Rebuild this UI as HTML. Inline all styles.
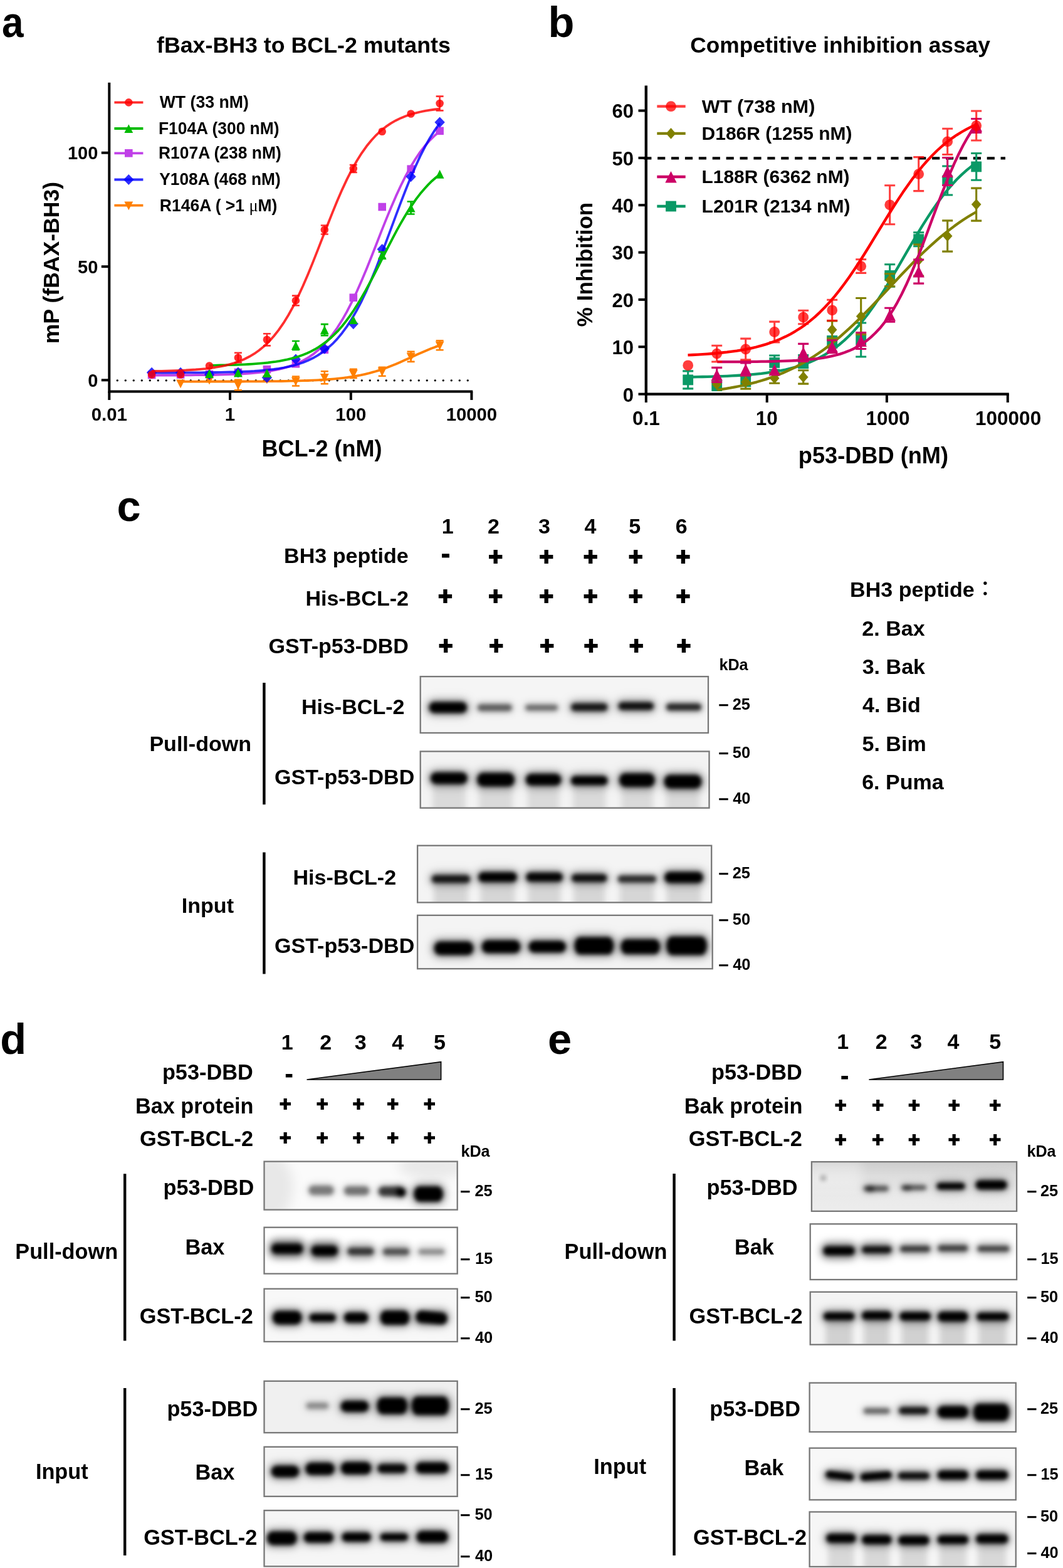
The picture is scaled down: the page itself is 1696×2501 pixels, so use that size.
<!DOCTYPE html>
<html lang="en">
<head>
<meta charset="utf-8">
<title>Figure</title>
<style>
html,body{margin:0;padding:0;background:#fff;}
body{width:1696px;height:2501px;overflow:hidden;}
svg{display:block;}
svg text{font-family:"Liberation Sans", sans-serif;font-weight:bold;fill:#000;}
</style>
</head>
<body>
<svg width="1696" height="2501" viewBox="0 0 1696 2501">
<rect x="0" y="0" width="1696" height="2501" fill="#ffffff"/>
<text x="3.0" y="59.2" font-size="69" textLength="34.5" lengthAdjust="spacingAndGlyphs">a</text>
<text x="874.4" y="58.9" font-size="68.5">b</text>
<text x="186.4" y="830.6" font-size="68.5">c</text>
<text x="0.2" y="1681.0" font-size="68.5">d</text>
<text x="873.9" y="1680.5" font-size="68.5">e</text>
<g id="panel-a">
<text x="484.4" y="83.6" font-size="35.75" text-anchor="middle">fBax-BH3 to BCL-2 mutants</text>
<path d="M174.3,131.7 V626.6 M172.3,624.6 H754.2" stroke="#000" stroke-width="4" fill="none"/>
<path d="M161.8,243.7 H174.3" stroke="#000" stroke-width="4"/>
<text x="156.3" y="254.2" font-size="29.0" text-anchor="end">100</text>
<path d="M161.8,425.2 H174.3" stroke="#000" stroke-width="4"/>
<text x="156.3" y="435.7" font-size="29.0" text-anchor="end">50</text>
<path d="M161.8,606.3 H174.3" stroke="#000" stroke-width="4"/>
<text x="156.3" y="616.8" font-size="29.0" text-anchor="end">0</text>
<path d="M174.3,624.6 V638" stroke="#000" stroke-width="4"/>
<text x="174.3" y="670.6" font-size="29.3" text-anchor="middle">0.01</text>
<path d="M367.0,624.6 V638" stroke="#000" stroke-width="4"/>
<text x="367.0" y="670.6" font-size="29.3" text-anchor="middle">1</text>
<path d="M559.8,624.6 V638" stroke="#000" stroke-width="4"/>
<text x="559.8" y="670.6" font-size="29.3" text-anchor="middle">100</text>
<path d="M752.4,624.6 V638" stroke="#000" stroke-width="4"/>
<text x="752.4" y="670.6" font-size="29.3" text-anchor="middle">10000</text>
<text x="513.4" y="728.2" font-size="36" text-anchor="middle">BCL-2 (nM)</text>
<text transform="translate(94.4,419) rotate(-90)" font-size="35.6" text-anchor="middle">mP (fBAX-BH3)</text>
<path d="M187.2,606.8 H751" stroke="#000" stroke-width="3.3" stroke-dasharray="0.1 12.9" stroke-linecap="round" fill="none"/>
<g id="a-R146A">
<path d="M288.0,608.6 L295.0,608.6 L302.0,608.6 L309.0,608.6 L316.0,608.6 L323.1,608.6 L330.1,608.6 L337.1,608.6 L344.1,608.5 L351.1,608.5 L358.1,608.5 L365.1,608.5 L372.1,608.5 L379.1,608.5 L386.1,608.5 L393.2,608.4 L400.2,608.4 L407.2,608.4 L414.2,608.3 L421.2,608.3 L428.2,608.2 L435.2,608.2 L442.2,608.1 L449.2,608.0 L456.2,607.9 L463.3,607.7 L470.3,607.6 L477.3,607.4 L484.3,607.2 L491.3,607.0 L498.3,606.7 L505.3,606.4 L512.3,606.0 L519.3,605.5 L526.3,605.0 L533.4,604.4 L540.4,603.7 L547.4,602.9 L554.4,602.0 L561.4,600.9 L568.4,599.7 L575.4,598.4 L582.4,596.8 L589.4,595.1 L596.4,593.2 L603.5,591.1 L610.5,588.7 L617.5,586.2 L624.5,583.5 L631.5,580.7 L638.5,577.7 L645.5,574.6 L652.5,571.4 L659.5,568.3 L666.5,565.1 L673.6,562.0 L680.6,559.0 L687.6,556.1 L694.6,553.4 L701.6,550.9" stroke="#ff8000" stroke-width="3.8" fill="none" stroke-linejoin="round"/>
<path d="M288.1,619.3 L295.0,605.5 L281.1,605.5Z" fill="#ff8000"/>
<path d="M334.0,613.6 L340.9,599.8 L327.1,599.8Z" fill="#ff8000"/>
<path d="M379.9,605.8 V622.2 M373.9,605.8 h12 M373.9,622.2 h12" stroke="#ff8000" stroke-width="2.6" fill="none"/>
<path d="M379.9,621.6 L386.9,607.8 L373.0,607.8Z" fill="#ff8000"/>
<path d="M425.9,612.6 L432.8,598.8 L419.0,598.8Z" fill="#ff8000"/>
<path d="M471.9,600.5 V615.5 M465.9,600.5 h12 M465.9,615.5 h12" stroke="#ff8000" stroke-width="2.6" fill="none"/>
<path d="M471.9,615.6 L478.8,601.8 L464.9,601.8Z" fill="#ff8000"/>
<path d="M517.8,592.2 V612.2 M511.8,592.2 h12 M511.8,612.2 h12" stroke="#ff8000" stroke-width="2.6" fill="none"/>
<path d="M517.8,609.8 L524.7,596.0 L510.9,596.0Z" fill="#ff8000"/>
<path d="M563.8,588.9 V602.9 M557.8,588.9 h12 M557.8,602.9 h12" stroke="#ff8000" stroke-width="2.6" fill="none"/>
<path d="M563.8,603.5 L570.7,589.7 L556.8,589.7Z" fill="#ff8000"/>
<path d="M609.7,585.7 V599.7 M603.7,585.7 h12 M603.7,599.7 h12" stroke="#ff8000" stroke-width="2.6" fill="none"/>
<path d="M609.7,600.3 L616.6,586.5 L602.8,586.5Z" fill="#ff8000"/>
<path d="M655.6,560.9 V576.9 M649.6,560.9 h12 M649.6,576.9 h12" stroke="#ff8000" stroke-width="2.6" fill="none"/>
<path d="M655.6,576.5 L662.6,562.7 L648.7,562.7Z" fill="#ff8000"/>
<path d="M701.6,543.3 V558.3 M695.6,543.3 h12 M695.6,558.3 h12" stroke="#ff8000" stroke-width="2.6" fill="none"/>
<path d="M701.6,558.4 L708.5,544.6 L694.7,544.6Z" fill="#ff8000"/>
</g>
<g id="a-R107A">
<path d="M242.1,598.6 L249.9,598.6 L257.7,598.5 L265.5,598.5 L273.3,598.5 L281.0,598.5 L288.8,598.4 L296.6,598.4 L304.4,598.3 L312.2,598.2 L320.0,598.2 L327.8,598.1 L335.6,597.9 L343.3,597.8 L351.1,597.6 L358.9,597.4 L366.7,597.2 L374.5,596.8 L382.3,596.5 L390.1,596.0 L397.9,595.5 L405.7,594.9 L413.4,594.1 L421.2,593.2 L429.0,592.0 L436.8,590.7 L444.6,589.1 L452.4,587.2 L460.2,584.9 L468.0,582.2 L475.7,579.0 L483.5,575.2 L491.3,570.7 L499.1,565.4 L506.9,559.1 L514.7,551.9 L522.5,543.5 L530.3,533.9 L538.0,523.0 L545.8,510.6 L553.6,496.9 L561.4,481.7 L569.2,465.2 L577.0,447.5 L584.8,428.9 L592.6,409.5 L600.4,389.8 L608.1,369.9 L615.9,350.4 L623.7,331.5 L631.5,313.4 L639.3,296.5 L647.1,280.9 L654.9,266.6 L662.7,253.8 L670.4,242.4 L678.2,232.4 L686.0,223.6 L693.8,216.0 L701.6,209.4" stroke="#c040e8" stroke-width="3.8" fill="none" stroke-linejoin="round"/>
<rect x="235.8" y="591.7" width="12.6" height="12.6" fill="#c040e8"/>
<rect x="281.8" y="591.2" width="12.6" height="12.6" fill="#c040e8"/>
<rect x="327.7" y="590.7" width="12.6" height="12.6" fill="#c040e8"/>
<rect x="373.6" y="587.7" width="12.6" height="12.6" fill="#c040e8"/>
<rect x="419.6" y="582.9" width="12.6" height="12.6" fill="#c040e8"/>
<rect x="465.6" y="574.0" width="12.6" height="12.6" fill="#c040e8"/>
<rect x="511.5" y="551.5" width="12.6" height="12.6" fill="#c040e8"/>
<rect x="557.5" y="468.4" width="12.6" height="12.6" fill="#c040e8"/>
<rect x="603.4" y="323.7" width="12.6" height="12.6" fill="#c040e8"/>
<rect x="649.4" y="263.4" width="12.6" height="12.6" fill="#c040e8"/>
<rect x="695.3" y="202.5" width="12.6" height="12.6" fill="#c040e8"/>
</g>
<g id="a-Y108A">
<path d="M242.1,594.6 L249.9,594.6 L257.7,594.5 L265.5,594.5 L273.3,594.5 L281.0,594.5 L288.8,594.5 L296.6,594.4 L304.4,594.4 L312.2,594.3 L320.0,594.3 L327.8,594.2 L335.6,594.1 L343.3,594.0 L351.1,593.9 L358.9,593.7 L366.7,593.5 L374.5,593.3 L382.3,593.0 L390.1,592.7 L397.9,592.3 L405.7,591.9 L413.4,591.3 L421.2,590.7 L429.0,589.9 L436.8,589.0 L444.6,587.9 L452.4,586.5 L460.2,584.9 L468.0,583.1 L475.7,580.8 L483.5,578.2 L491.3,575.0 L499.1,571.3 L506.9,566.9 L514.7,561.7 L522.5,555.7 L530.3,548.7 L538.0,540.6 L545.8,531.2 L553.6,520.6 L561.4,508.5 L569.2,495.0 L577.0,480.0 L584.8,463.6 L592.6,445.8 L600.4,426.8 L608.1,406.8 L615.9,386.2 L623.7,365.1 L631.5,344.1 L639.3,323.3 L647.1,303.2 L654.9,283.9 L662.7,265.9 L670.4,249.1 L678.2,233.8 L686.0,220.0 L693.8,207.6 L701.6,196.7" stroke="#0000ff" stroke-width="3.8" fill="none" stroke-linejoin="round" stroke-opacity="0.82"/>
<path d="M242.1,585.7 L250.3,594.3 L242.1,602.9 L233.9,594.3Z" fill="#0000ff" fill-opacity="0.82"/>
<path d="M288.1,585.7 L296.2,594.3 L288.1,602.9 L279.9,594.3Z" fill="#0000ff" fill-opacity="0.82"/>
<path d="M334.0,588.9 L342.2,597.5 L334.0,606.1 L325.8,597.5Z" fill="#0000ff" fill-opacity="0.82"/>
<path d="M379.9,585.4 L388.1,594.0 L379.9,602.6 L371.8,594.0Z" fill="#0000ff" fill-opacity="0.82"/>
<path d="M425.9,593.6 L434.1,602.2 L425.9,610.8 L417.7,602.2Z" fill="#0000ff" fill-opacity="0.82"/>
<path d="M471.9,564.4 L480.0,573.0 L471.9,581.6 L463.7,573.0Z" fill="#0000ff" fill-opacity="0.82"/>
<path d="M517.8,547.6 L526.0,556.2 L517.8,564.8 L509.6,556.2Z" fill="#0000ff" fill-opacity="0.82"/>
<path d="M563.8,508.0 L571.9,516.6 L563.8,525.2 L555.6,516.6Z" fill="#0000ff" fill-opacity="0.82"/>
<path d="M609.7,389.0 L617.9,397.6 L609.7,406.2 L601.5,397.6Z" fill="#0000ff" fill-opacity="0.82"/>
<path d="M655.6,273.1 L663.8,281.7 L655.6,290.3 L647.5,281.7Z" fill="#0000ff" fill-opacity="0.82"/>
<path d="M701.6,186.5 L709.8,195.1 L701.6,203.7 L693.4,195.1Z" fill="#0000ff" fill-opacity="0.82"/>
</g>
<g id="a-F104A">
<path d="M333.9,582.8 L340.1,582.8 L346.4,582.7 L352.6,582.5 L358.8,582.4 L365.1,582.2 L371.3,582.1 L377.5,581.8 L383.8,581.6 L390.0,581.3 L396.2,581.0 L402.5,580.6 L408.7,580.2 L414.9,579.7 L421.2,579.1 L427.4,578.5 L433.6,577.7 L439.8,576.9 L446.1,575.9 L452.3,574.7 L458.5,573.4 L464.8,571.9 L471.0,570.2 L477.2,568.3 L483.5,566.0 L489.7,563.5 L495.9,560.6 L502.2,557.3 L508.4,553.6 L514.6,549.4 L520.9,544.8 L527.1,539.5 L533.3,533.7 L539.6,527.3 L545.8,520.2 L552.0,512.4 L558.3,503.9 L564.5,494.8 L570.7,485.0 L577.0,474.5 L583.2,463.6 L589.4,452.1 L595.7,440.3 L601.9,428.1 L608.1,415.9 L614.3,403.5 L620.6,391.3 L626.8,379.3 L633.0,367.6 L639.3,356.4 L645.5,345.7 L651.7,335.6 L658.0,326.1 L664.2,317.2 L670.4,309.1 L676.7,301.7 L682.9,294.9 L689.1,288.7 L695.4,283.2 L701.6,278.2" stroke="#00bb00" stroke-width="3.8" fill="none" stroke-linejoin="round"/>
<path d="M334.0,589.1 L340.9,603.0 L327.1,603.0Z" fill="#00bb00"/>
<path d="M379.9,587.5 L386.9,601.4 L373.0,601.4Z" fill="#00bb00"/>
<path d="M425.9,588.1 L432.8,602.0 L419.0,602.0Z" fill="#00bb00"/>
<path d="M471.9,544.0 V558.0 M465.9,544.0 h12 M465.9,558.0 h12" stroke="#00bb00" stroke-width="2.6" fill="none"/>
<path d="M471.9,544.2 L478.8,558.1 L464.9,558.1Z" fill="#00bb00"/>
<path d="M517.8,517.1 V535.1 M511.8,517.1 h12 M511.8,535.1 h12" stroke="#00bb00" stroke-width="2.6" fill="none"/>
<path d="M517.8,519.3 L524.7,533.2 L510.9,533.2Z" fill="#00bb00"/>
<path d="M563.8,503.2 L570.7,517.1 L556.8,517.1Z" fill="#00bb00"/>
<path d="M609.7,402.0 V412.0 M603.7,402.0 h12 M603.7,412.0 h12" stroke="#00bb00" stroke-width="2.6" fill="none"/>
<path d="M609.7,400.2 L616.6,414.1 L602.8,414.1Z" fill="#00bb00"/>
<path d="M655.6,321.5 V341.5 M649.6,321.5 h12 M649.6,341.5 h12" stroke="#00bb00" stroke-width="2.6" fill="none"/>
<path d="M655.6,324.7 L662.6,338.6 L648.7,338.6Z" fill="#00bb00"/>
<path d="M701.6,270.8 L708.5,284.7 L694.7,284.7Z" fill="#00bb00"/>
</g>
<g id="a-WT">
<path d="M242.1,592.0 L249.9,591.9 L257.7,591.8 L265.5,591.6 L273.3,591.4 L281.0,591.1 L288.8,590.8 L296.6,590.5 L304.4,590.0 L312.2,589.5 L320.0,588.8 L327.8,588.1 L335.6,587.1 L343.3,586.0 L351.1,584.7 L358.9,583.1 L366.7,581.1 L374.5,578.8 L382.3,576.0 L390.1,572.8 L397.9,568.8 L405.7,564.2 L413.4,558.8 L421.2,552.4 L429.0,545.0 L436.8,536.3 L444.6,526.4 L452.4,515.2 L460.2,502.5 L468.0,488.3 L475.7,472.7 L483.5,455.8 L491.3,437.7 L499.1,418.6 L506.9,398.9 L514.7,378.9 L522.5,359.0 L530.3,339.4 L538.0,320.5 L545.8,302.6 L553.6,285.9 L561.4,270.6 L569.2,256.7 L577.0,244.3 L584.8,233.3 L592.6,223.7 L600.4,215.3 L608.1,208.1 L615.9,201.9 L623.7,196.6 L631.5,192.2 L639.3,188.4 L647.1,185.2 L654.9,182.6 L662.7,180.3 L670.4,178.5 L678.2,176.9 L686.0,175.6 L693.8,174.5 L701.6,173.6" stroke="#ff0000" stroke-width="3.8" fill="none" stroke-linejoin="round" stroke-opacity="0.82"/>
<circle cx="242.1" cy="597.5" r="6.3" fill="#ff0000" fill-opacity="0.82"/>
<circle cx="288.1" cy="597.5" r="6.3" fill="#ff0000" fill-opacity="0.82"/>
<circle cx="334.0" cy="583.5" r="6.3" fill="#ff0000" fill-opacity="0.82"/>
<path d="M379.9,562.7 V578.3 M373.9,562.7 h12 M373.9,578.3 h12" stroke="#ff0000" stroke-width="2.6" fill="none" stroke-opacity="0.82"/>
<circle cx="379.9" cy="570.5" r="6.3" fill="#ff0000" fill-opacity="0.82"/>
<path d="M425.9,532.2 V551.4 M419.9,532.2 h12 M419.9,551.4 h12" stroke="#ff0000" stroke-width="2.6" fill="none" stroke-opacity="0.82"/>
<circle cx="425.9" cy="541.8" r="6.3" fill="#ff0000" fill-opacity="0.82"/>
<path d="M471.9,471.6 V487.2 M465.9,471.6 h12 M465.9,487.2 h12" stroke="#ff0000" stroke-width="2.6" fill="none" stroke-opacity="0.82"/>
<circle cx="471.9" cy="479.4" r="6.3" fill="#ff0000" fill-opacity="0.82"/>
<path d="M517.8,359.5 V373.5 M511.8,359.5 h12 M511.8,373.5 h12" stroke="#ff0000" stroke-width="2.6" fill="none" stroke-opacity="0.82"/>
<circle cx="517.8" cy="366.5" r="6.3" fill="#ff0000" fill-opacity="0.82"/>
<path d="M563.8,263.0 V275.0 M557.8,263.0 h12 M557.8,275.0 h12" stroke="#ff0000" stroke-width="2.6" fill="none" stroke-opacity="0.82"/>
<circle cx="563.8" cy="269.0" r="6.3" fill="#ff0000" fill-opacity="0.82"/>
<circle cx="609.7" cy="209.7" r="6.3" fill="#ff0000" fill-opacity="0.82"/>
<circle cx="655.6" cy="181.5" r="6.3" fill="#ff0000" fill-opacity="0.82"/>
<path d="M701.6,153.6 V176.4 M695.6,153.6 h12 M695.6,176.4 h12" stroke="#ff0000" stroke-width="2.6" fill="none" stroke-opacity="0.82"/>
<circle cx="701.6" cy="165.0" r="6.3" fill="#ff0000" fill-opacity="0.82"/>
</g>
<path d="M182.4,163.4 H228.4" stroke="#ff0000" stroke-width="3.8" stroke-opacity="0.82"/>
<circle cx="205.3" cy="163.4" r="6.3" fill="#ff0000" fill-opacity="0.82"/>
<text x="254.7" y="172.3" font-size="27.2" textLength="142.3" lengthAdjust="spacingAndGlyphs">WT (33 nM)</text>
<path d="M182.4,205 H228.4" stroke="#00bb00" stroke-width="3.8"/>
<path d="M205.3,198.2 L212.2,212.1 L198.4,212.1Z" fill="#00bb00"/>
<text x="253.0" y="213.9" font-size="27.2" textLength="192.5" lengthAdjust="spacingAndGlyphs">F104A (300 nM)</text>
<path d="M182.4,244.3 H228.4" stroke="#c040e8" stroke-width="3.8"/>
<rect x="199.0" y="238.0" width="12.6" height="12.6" fill="#c040e8"/>
<text x="253.0" y="253.2" font-size="27.2" textLength="195.7" lengthAdjust="spacingAndGlyphs">R107A (238 nM)</text>
<path d="M182.4,286.5 H228.4" stroke="#0000ff" stroke-width="3.8" stroke-opacity="0.82"/>
<path d="M205.3,277.9 L213.5,286.5 L205.3,295.1 L197.1,286.5Z" fill="#0000ff" fill-opacity="0.82"/>
<text x="254.3" y="295.4" font-size="27.2" textLength="193.4" lengthAdjust="spacingAndGlyphs">Y108A (468 nM)</text>
<path d="M182.4,327.7 H228.4" stroke="#ff8000" stroke-width="3.8"/>
<path d="M205.3,335.3 L212.2,321.5 L198.4,321.5Z" fill="#ff8000"/>
<text x="254.8" y="336.59999999999997" font-size="27.2" textLength="187.6" lengthAdjust="spacingAndGlyphs">R146A ( &gt;1 <tspan font-family="'Liberation Serif', serif" font-weight="normal" font-size="27">μ</tspan>M)</text>
</g>
<g id="panel-b">
<text x="1340.6" y="83.6" font-size="35.3" text-anchor="middle">Competitive inhibition assay</text>
<path d="M1030.8,136.4 V630.6 M1028.8,628.6 H1609.8" stroke="#000" stroke-width="4.4" fill="none"/>
<path d="M1018.5,628.6 H1030.8" stroke="#000" stroke-width="4"/>
<text x="1011" y="640.5" font-size="31" text-anchor="end">0</text>
<path d="M1018.5,553.2 H1030.8" stroke="#000" stroke-width="4"/>
<text x="1011" y="565.15" font-size="31" text-anchor="end">10</text>
<path d="M1018.5,477.9 H1030.8" stroke="#000" stroke-width="4"/>
<text x="1011" y="489.8" font-size="31" text-anchor="end">20</text>
<path d="M1018.5,402.6 H1030.8" stroke="#000" stroke-width="4"/>
<text x="1011" y="414.45" font-size="31" text-anchor="end">30</text>
<path d="M1018.5,327.2 H1030.8" stroke="#000" stroke-width="4"/>
<text x="1011" y="339.1" font-size="31" text-anchor="end">40</text>
<path d="M1018.5,251.9 H1030.8" stroke="#000" stroke-width="4"/>
<text x="1011" y="263.75" font-size="31" text-anchor="end">50</text>
<path d="M1018.5,176.5 H1030.8" stroke="#000" stroke-width="4"/>
<text x="1011" y="188.4" font-size="31" text-anchor="end">60</text>
<path d="M1030.8,628.6 V642" stroke="#000" stroke-width="4"/>
<text x="1030.8" y="677.5" font-size="31.5" text-anchor="middle">0.1</text>
<path d="M1223.7,628.6 V642" stroke="#000" stroke-width="4"/>
<text x="1223.2" y="677.5" font-size="31.5" text-anchor="middle">10</text>
<path d="M1414.9,628.6 V642" stroke="#000" stroke-width="4"/>
<text x="1416.5" y="677.5" font-size="31.5" text-anchor="middle">1000</text>
<path d="M1607.8,628.6 V642" stroke="#000" stroke-width="4"/>
<text x="1608.6" y="677.5" font-size="31.5" text-anchor="middle">100000</text>
<text x="1393.4" y="739" font-size="36.2" text-anchor="middle">p53-DBD (nM)</text>
<text transform="translate(944.7,422) rotate(-90)" font-size="35" text-anchor="middle">% Inhibition</text>
<path d="M1027.2,252.3 H1604" stroke="#000" stroke-width="4.2" stroke-dasharray="12.2 9.7" fill="none"/>
<g id="b-L201R">
<path d="M1097.5,601.4 L1105.3,601.3 L1113.1,601.2 L1120.9,601.0 L1128.7,600.8 L1136.5,600.6 L1144.3,600.4 L1152.1,600.1 L1159.9,599.8 L1167.7,599.4 L1175.5,599.0 L1183.3,598.5 L1191.1,597.9 L1198.9,597.3 L1206.7,596.6 L1214.5,595.8 L1222.3,594.8 L1230.1,593.7 L1237.9,592.5 L1245.7,591.1 L1253.5,589.5 L1261.3,587.6 L1269.1,585.6 L1276.9,583.2 L1284.7,580.5 L1292.5,577.5 L1300.3,574.0 L1308.1,570.2 L1315.9,565.8 L1323.7,561.0 L1331.5,555.6 L1339.3,549.5 L1347.1,542.9 L1354.9,535.5 L1362.7,527.5 L1370.5,518.7 L1378.3,509.2 L1386.1,499.1 L1393.9,488.2 L1401.7,476.7 L1409.5,464.6 L1417.3,452.0 L1425.1,439.0 L1432.9,425.8 L1440.7,412.4 L1448.5,398.9 L1456.3,385.6 L1464.1,372.4 L1471.9,359.6 L1479.7,347.3 L1487.5,335.5 L1495.3,324.3 L1503.1,313.7 L1510.9,303.9 L1518.7,294.8 L1526.5,286.3 L1534.3,278.6 L1542.1,271.6 L1549.9,265.3 L1557.7,259.6" stroke="#0a9966" stroke-width="4.3" fill="none" stroke-linejoin="round"/>
<path d="M1097.7,591.9 V619.9 M1089.2,591.9 h17 M1089.2,619.9 h17" stroke="#0a9966" stroke-width="3.1" fill="none"/>
<rect x="1089.3" y="597.5" width="16.8" height="16.8" fill="#0a9966"/>
<rect x="1135.3" y="607.2" width="16.8" height="16.8" fill="#0a9966"/>
<path d="M1189.7,599.7 V615.7 M1181.2,599.7 h17 M1181.2,615.7 h17" stroke="#0a9966" stroke-width="3.1" fill="none"/>
<rect x="1181.3" y="599.3" width="16.8" height="16.8" fill="#0a9966"/>
<path d="M1235.7,567.0 V590.0 M1227.2,567.0 h17 M1227.2,590.0 h17" stroke="#0a9966" stroke-width="3.1" fill="none"/>
<rect x="1227.3" y="570.1" width="16.8" height="16.8" fill="#0a9966"/>
<path d="M1281.7,566.6 V586.6 M1273.2,566.6 h17 M1273.2,586.6 h17" stroke="#0a9966" stroke-width="3.1" fill="none"/>
<rect x="1273.3" y="568.2" width="16.8" height="16.8" fill="#0a9966"/>
<path d="M1327.7,536.5 V554.5 M1319.2,536.5 h17 M1319.2,554.5 h17" stroke="#0a9966" stroke-width="3.1" fill="none"/>
<rect x="1319.3" y="537.1" width="16.8" height="16.8" fill="#0a9966"/>
<path d="M1373.7,515.0 V569.0 M1365.2,515.0 h17 M1365.2,569.0 h17" stroke="#0a9966" stroke-width="3.1" fill="none"/>
<rect x="1365.3" y="533.6" width="16.8" height="16.8" fill="#0a9966"/>
<path d="M1419.7,421.7 V457.3 M1411.2,421.7 h17 M1411.2,457.3 h17" stroke="#0a9966" stroke-width="3.1" fill="none"/>
<rect x="1411.3" y="431.1" width="16.8" height="16.8" fill="#0a9966"/>
<path d="M1465.7,370.7 V392.7 M1457.2,370.7 h17 M1457.2,392.7 h17" stroke="#0a9966" stroke-width="3.1" fill="none"/>
<rect x="1457.3" y="373.3" width="16.8" height="16.8" fill="#0a9966"/>
<path d="M1511.7,265.0 V311.0 M1503.2,265.0 h17 M1503.2,311.0 h17" stroke="#0a9966" stroke-width="3.1" fill="none"/>
<rect x="1503.3" y="279.6" width="16.8" height="16.8" fill="#0a9966"/>
<path d="M1557.7,244.5 V287.3 M1549.2,244.5 h17 M1549.2,287.3 h17" stroke="#0a9966" stroke-width="3.1" fill="none"/>
<rect x="1549.3" y="257.5" width="16.8" height="16.8" fill="#0a9966"/>
</g>
<g id="b-D186R">
<path d="M1144.3,622.0 L1151.3,620.9 L1158.3,619.8 L1165.3,618.7 L1172.3,617.4 L1179.3,616.0 L1186.3,614.5 L1193.3,612.9 L1200.4,611.1 L1207.4,609.3 L1214.4,607.2 L1221.4,605.1 L1228.4,602.7 L1235.4,600.2 L1242.4,597.5 L1249.4,594.7 L1256.4,591.6 L1263.4,588.3 L1270.4,584.8 L1277.4,581.1 L1284.4,577.1 L1291.4,572.9 L1298.4,568.5 L1305.5,563.8 L1312.5,558.9 L1319.5,553.8 L1326.5,548.4 L1333.5,542.7 L1340.5,536.8 L1347.5,530.7 L1354.5,524.3 L1361.5,517.8 L1368.5,511.1 L1375.5,504.1 L1382.5,497.1 L1389.5,489.9 L1396.5,482.6 L1403.6,475.2 L1410.6,467.7 L1417.6,460.2 L1424.6,452.7 L1431.6,445.2 L1438.6,437.8 L1445.6,430.5 L1452.6,423.2 L1459.6,416.1 L1466.6,409.1 L1473.6,402.3 L1480.6,395.7 L1487.6,389.3 L1494.6,383.1 L1501.6,377.1 L1508.7,371.4 L1515.7,365.9 L1522.7,360.6 L1529.7,355.6 L1536.7,350.8 L1543.7,346.3 L1550.7,342.0 L1557.7,338.0" stroke="#808000" stroke-width="4.3" fill="none" stroke-linejoin="round"/>
<path d="M1143.7,604.2 L1151.5,613.0 L1143.7,621.8 L1135.9,613.0Z" fill="#808000"/>
<path d="M1189.7,598.7 V620.1 M1181.2,598.7 h17 M1181.2,620.1 h17" stroke="#808000" stroke-width="3.1" fill="none"/>
<path d="M1189.7,600.6 L1197.5,609.4 L1189.7,618.2 L1181.9,609.4Z" fill="#808000"/>
<path d="M1235.7,595.2 V611.2 M1227.2,595.2 h17 M1227.2,611.2 h17" stroke="#808000" stroke-width="3.1" fill="none"/>
<path d="M1235.7,594.4 L1243.5,603.2 L1235.7,612.0 L1227.9,603.2Z" fill="#808000"/>
<path d="M1281.7,590.7 V612.1 M1273.2,590.7 h17 M1273.2,612.1 h17" stroke="#808000" stroke-width="3.1" fill="none"/>
<path d="M1281.7,592.6 L1289.5,601.4 L1281.7,610.2 L1273.9,601.4Z" fill="#808000"/>
<path d="M1327.7,511.9 V539.9 M1319.2,511.9 h17 M1319.2,539.9 h17" stroke="#808000" stroke-width="3.1" fill="none"/>
<path d="M1327.7,517.1 L1335.5,525.9 L1327.7,534.7 L1319.9,525.9Z" fill="#808000"/>
<path d="M1373.7,475.5 V533.5 M1365.2,475.5 h17 M1365.2,533.5 h17" stroke="#808000" stroke-width="3.1" fill="none"/>
<path d="M1373.7,495.7 L1381.5,504.5 L1373.7,513.3 L1365.9,504.5Z" fill="#808000"/>
<path d="M1419.7,436.8 V456.8 M1411.2,436.8 h17 M1411.2,456.8 h17" stroke="#808000" stroke-width="3.1" fill="none"/>
<path d="M1419.7,438.0 L1427.5,446.8 L1419.7,455.6 L1411.9,446.8Z" fill="#808000"/>
<path d="M1465.7,390.0 V440.0 M1457.2,390.0 h17 M1457.2,440.0 h17" stroke="#808000" stroke-width="3.1" fill="none"/>
<path d="M1465.7,406.2 L1473.5,415.0 L1465.7,423.8 L1457.9,415.0Z" fill="#808000"/>
<path d="M1511.7,351.9 V401.1 M1503.2,351.9 h17 M1503.2,401.1 h17" stroke="#808000" stroke-width="3.1" fill="none"/>
<path d="M1511.7,367.7 L1519.5,376.5 L1511.7,385.3 L1503.9,376.5Z" fill="#808000"/>
<path d="M1557.7,300.1 V352.1 M1549.2,300.1 h17 M1549.2,352.1 h17" stroke="#808000" stroke-width="3.1" fill="none"/>
<path d="M1557.7,317.3 L1565.5,326.1 L1557.7,334.9 L1549.9,326.1Z" fill="#808000"/>
</g>
<g id="b-L188R">
<path d="M1144.3,577.2 L1151.3,577.2 L1158.3,577.2 L1165.3,577.2 L1172.3,577.1 L1179.3,577.1 L1186.3,577.0 L1193.3,577.0 L1200.4,576.9 L1207.4,576.8 L1214.4,576.7 L1221.4,576.6 L1228.4,576.5 L1235.4,576.3 L1242.4,576.1 L1249.4,575.9 L1256.4,575.6 L1263.4,575.3 L1270.4,575.0 L1277.4,574.5 L1284.4,574.0 L1291.4,573.4 L1298.4,572.7 L1305.5,571.8 L1312.5,570.8 L1319.5,569.6 L1326.5,568.2 L1333.5,566.5 L1340.5,564.6 L1347.5,562.3 L1354.5,559.6 L1361.5,556.5 L1368.5,552.8 L1375.5,548.5 L1382.5,543.6 L1389.5,537.9 L1396.5,531.3 L1403.6,523.8 L1410.6,515.2 L1417.6,505.6 L1424.6,494.7 L1431.6,482.6 L1438.6,469.3 L1445.6,454.8 L1452.6,439.1 L1459.6,422.3 L1466.6,404.7 L1473.6,386.4 L1480.6,367.7 L1487.6,348.7 L1494.6,329.9 L1501.6,311.4 L1508.7,293.6 L1515.7,276.5 L1522.7,260.4 L1529.7,245.5 L1536.7,231.8 L1543.7,219.3 L1550.7,208.0 L1557.7,197.9" stroke="#cc0066" stroke-width="4.3" fill="none" stroke-linejoin="round"/>
<path d="M1143.7,586.4 V609.4 M1135.2,586.4 h17 M1135.2,609.4 h17" stroke="#cc0066" stroke-width="3.1" fill="none"/>
<path d="M1143.7,588.8 L1152.9,607.3 L1134.5,607.3Z" fill="#cc0066"/>
<path d="M1189.7,579.0 V599.0 M1181.2,579.0 h17 M1181.2,599.0 h17" stroke="#cc0066" stroke-width="3.1" fill="none"/>
<path d="M1189.7,579.9 L1198.9,598.4 L1180.5,598.4Z" fill="#cc0066"/>
<path d="M1235.7,580.8 L1244.9,599.3 L1226.5,599.3Z" fill="#cc0066"/>
<path d="M1281.7,548.4 V576.4 M1273.2,548.4 h17 M1273.2,576.4 h17" stroke="#cc0066" stroke-width="3.1" fill="none"/>
<path d="M1281.7,553.3 L1290.9,571.8 L1272.5,571.8Z" fill="#cc0066"/>
<path d="M1327.7,542.8 V562.8 M1319.2,542.8 h17 M1319.2,562.8 h17" stroke="#cc0066" stroke-width="3.1" fill="none"/>
<path d="M1327.7,543.7 L1336.9,562.2 L1318.5,562.2Z" fill="#cc0066"/>
<path d="M1373.7,530.5 V556.5 M1365.2,530.5 h17 M1365.2,556.5 h17" stroke="#cc0066" stroke-width="3.1" fill="none"/>
<path d="M1373.7,534.4 L1382.9,552.9 L1364.5,552.9Z" fill="#cc0066"/>
<path d="M1419.7,491.3 V513.3 M1411.2,491.3 h17 M1411.2,513.3 h17" stroke="#cc0066" stroke-width="3.1" fill="none"/>
<path d="M1419.7,493.2 L1428.9,511.7 L1410.5,511.7Z" fill="#cc0066"/>
<path d="M1465.7,414.1 V452.1 M1457.2,414.1 h17 M1457.2,452.1 h17" stroke="#cc0066" stroke-width="3.1" fill="none"/>
<path d="M1465.7,424.0 L1474.9,442.5 L1456.5,442.5Z" fill="#cc0066"/>
<path d="M1511.7,251.5 V295.5 M1503.2,251.5 h17 M1503.2,295.5 h17" stroke="#cc0066" stroke-width="3.1" fill="none"/>
<path d="M1511.7,264.4 L1520.9,282.9 L1502.5,282.9Z" fill="#cc0066"/>
<path d="M1557.7,189.5 V211.5 M1549.2,189.5 h17 M1549.2,211.5 h17" stroke="#cc0066" stroke-width="3.1" fill="none"/>
<path d="M1557.7,191.4 L1566.9,209.9 L1548.5,209.9Z" fill="#cc0066"/>
</g>
<g id="b-WT">
<path d="M1097.5,566.3 L1105.3,566.0 L1113.1,565.6 L1120.9,565.1 L1128.7,564.6 L1136.5,564.0 L1144.3,563.3 L1152.1,562.5 L1159.9,561.7 L1167.7,560.7 L1175.5,559.6 L1183.3,558.3 L1191.1,556.9 L1198.9,555.3 L1206.7,553.5 L1214.5,551.4 L1222.3,549.1 L1230.1,546.5 L1237.9,543.7 L1245.7,540.4 L1253.5,536.8 L1261.3,532.8 L1269.1,528.3 L1276.9,523.4 L1284.7,517.9 L1292.5,511.9 L1300.3,505.3 L1308.1,498.1 L1315.9,490.3 L1323.7,481.9 L1331.5,472.8 L1339.3,463.1 L1347.1,452.8 L1354.9,441.9 L1362.7,430.5 L1370.5,418.7 L1378.3,406.5 L1386.1,394.0 L1393.9,381.2 L1401.7,368.4 L1409.5,355.6 L1417.3,343.0 L1425.1,330.5 L1432.9,318.4 L1440.7,306.6 L1448.5,295.4 L1456.3,284.6 L1464.1,274.5 L1471.9,264.9 L1479.7,256.0 L1487.5,247.7 L1495.3,240.0 L1503.1,233.0 L1510.9,226.5 L1518.7,220.6 L1526.5,215.3 L1534.3,210.5 L1542.1,206.1 L1549.9,202.2 L1557.7,198.7" stroke="#ff0000" stroke-width="4.3" fill="none" stroke-linejoin="round"/>
<circle cx="1097.7" cy="582.8" r="8.4" fill="#ff0000" fill-opacity="0.76"/>
<path d="M1143.7,551.2 V577.0 M1135.2,551.2 h17 M1135.2,577.0 h17" stroke="#ff0000" stroke-width="3.1" fill="none" stroke-opacity="0.76"/>
<circle cx="1143.7" cy="564.1" r="8.4" fill="#ff0000" fill-opacity="0.76"/>
<path d="M1189.7,540.1 V573.9 M1181.2,540.1 h17 M1181.2,573.9 h17" stroke="#ff0000" stroke-width="3.1" fill="none" stroke-opacity="0.76"/>
<circle cx="1189.7" cy="557.0" r="8.4" fill="#ff0000" fill-opacity="0.76"/>
<path d="M1235.7,513.1 V545.9 M1227.2,513.1 h17 M1227.2,545.9 h17" stroke="#ff0000" stroke-width="3.1" fill="none" stroke-opacity="0.76"/>
<circle cx="1235.7" cy="529.5" r="8.4" fill="#ff0000" fill-opacity="0.76"/>
<path d="M1281.7,495.2 V516.8 M1273.2,495.2 h17 M1273.2,516.8 h17" stroke="#ff0000" stroke-width="3.1" fill="none" stroke-opacity="0.76"/>
<circle cx="1281.7" cy="506.0" r="8.4" fill="#ff0000" fill-opacity="0.76"/>
<path d="M1327.7,478.2 V511.4 M1319.2,478.2 h17 M1319.2,511.4 h17" stroke="#ff0000" stroke-width="3.1" fill="none" stroke-opacity="0.76"/>
<circle cx="1327.7" cy="494.8" r="8.4" fill="#ff0000" fill-opacity="0.76"/>
<path d="M1373.7,413.8 V435.4 M1365.2,413.8 h17 M1365.2,435.4 h17" stroke="#ff0000" stroke-width="3.1" fill="none" stroke-opacity="0.76"/>
<circle cx="1373.7" cy="424.6" r="8.4" fill="#ff0000" fill-opacity="0.76"/>
<path d="M1419.7,295.8 V357.8 M1411.2,295.8 h17 M1411.2,357.8 h17" stroke="#ff0000" stroke-width="3.1" fill="none" stroke-opacity="0.76"/>
<circle cx="1419.7" cy="326.8" r="8.4" fill="#ff0000" fill-opacity="0.76"/>
<path d="M1465.7,250.6 V304.6 M1457.2,250.6 h17 M1457.2,304.6 h17" stroke="#ff0000" stroke-width="3.1" fill="none" stroke-opacity="0.76"/>
<circle cx="1465.7" cy="277.6" r="8.4" fill="#ff0000" fill-opacity="0.76"/>
<path d="M1511.7,205.3 V246.5 M1503.2,205.3 h17 M1503.2,246.5 h17" stroke="#ff0000" stroke-width="3.1" fill="none" stroke-opacity="0.76"/>
<circle cx="1511.7" cy="225.9" r="8.4" fill="#ff0000" fill-opacity="0.76"/>
<path d="M1557.7,177.0 V224.0 M1549.2,177.0 h17 M1549.2,224.0 h17" stroke="#ff0000" stroke-width="3.1" fill="none" stroke-opacity="0.76"/>
<circle cx="1557.7" cy="200.5" r="8.4" fill="#ff0000" fill-opacity="0.76"/>
</g>
<path d="M1048.3,169.7 H1093.7" stroke="#ff0000" stroke-width="4.3" stroke-opacity="0.76"/>
<circle cx="1070.5" cy="169.7" r="8.4" fill="#ff0000" fill-opacity="0.76"/>
<text x="1119.8" y="179.5" font-size="29.9" textLength="180.6" lengthAdjust="spacingAndGlyphs">WT (738 nM)</text>
<path d="M1048.3,212.9 H1093.7" stroke="#808000" stroke-width="4.3"/>
<path d="M1070.5,204.1 L1078.3,212.9 L1070.5,221.7 L1062.7,212.9Z" fill="#808000"/>
<text x="1119.6" y="222.7" font-size="29.9" textLength="240.0" lengthAdjust="spacingAndGlyphs">D186R (1255 nM)</text>
<path d="M1048.3,282 H1093.7" stroke="#cc0066" stroke-width="4.3"/>
<path d="M1070.5,272.9 L1079.7,291.4 L1061.3,291.4Z" fill="#cc0066"/>
<text x="1119.6" y="291.8" font-size="29.9" textLength="235.9" lengthAdjust="spacingAndGlyphs">L188R (6362 nM)</text>
<path d="M1048.3,329 H1093.7" stroke="#0a9966" stroke-width="4.3"/>
<rect x="1062.1" y="320.6" width="16.8" height="16.8" fill="#0a9966"/>
<text x="1119.6" y="338.8" font-size="29.9" textLength="236.8" lengthAdjust="spacingAndGlyphs">L201R (2134 nM)</text>
</g>
<defs>
<filter id="bl" x="-30%" y="-300%" width="160%" height="700%" color-interpolation-filters="sRGB"><feGaussianBlur stdDeviation="3"/></filter>
<filter id="bl2" x="-30%" y="-300%" width="160%" height="700%" color-interpolation-filters="sRGB"><feGaussianBlur stdDeviation="6"/></filter>
<filter id="bl3" x="-60%" y="-200%" width="220%" height="500%" color-interpolation-filters="sRGB"><feGaussianBlur stdDeviation="9"/></filter>
<filter id="bls" x="-30%" y="-50%" width="160%" height="200%" color-interpolation-filters="sRGB"><feGaussianBlur stdDeviation="5 7"/></filter>
</defs>
<g id="panel-c">
<text x="714.1" y="850.5" font-size="34" text-anchor="middle">1</text>
<text x="777.9" y="850.5" font-size="34">2</text>
<text x="859.1" y="850.5" font-size="34">3</text>
<text x="932.4" y="850.5" font-size="34">4</text>
<text x="1003.2" y="850.5" font-size="34">5</text>
<text x="1077.8" y="850.5" font-size="34">6</text>
<text x="453.1" y="897.5" font-size="34.05">BH3 peptide</text>
<text x="487.4" y="966.4" font-size="34.05">His-BCL-2</text>
<text x="428.6" y="1042.0" font-size="34.05">GST-p53-DBD</text>
<text x="704.0" y="897.9" font-size="42.1" stroke="#000" stroke-width="1.20" stroke-linejoin="miter">-</text>
<text x="779.6" y="901.4" font-size="38.3" stroke="#000" stroke-width="2.13" stroke-linejoin="miter">+</text>
<text x="860.5" y="901.4" font-size="38.3" stroke="#000" stroke-width="2.13" stroke-linejoin="miter">+</text>
<text x="930.9" y="901.4" font-size="38.3" stroke="#000" stroke-width="2.13" stroke-linejoin="miter">+</text>
<text x="1003.0" y="901.4" font-size="38.3" stroke="#000" stroke-width="2.13" stroke-linejoin="miter">+</text>
<text x="1078.8" y="901.4" font-size="38.3" stroke="#000" stroke-width="2.13" stroke-linejoin="miter">+</text>
<text x="699.2" y="964.0" font-size="38.3" stroke="#000" stroke-width="2.13" stroke-linejoin="miter">+</text>
<text x="779.6" y="964.0" font-size="38.3" stroke="#000" stroke-width="2.13" stroke-linejoin="miter">+</text>
<text x="860.5" y="964.0" font-size="38.3" stroke="#000" stroke-width="2.13" stroke-linejoin="miter">+</text>
<text x="930.9" y="964.0" font-size="38.3" stroke="#000" stroke-width="2.13" stroke-linejoin="miter">+</text>
<text x="1003.0" y="964.0" font-size="38.3" stroke="#000" stroke-width="2.13" stroke-linejoin="miter">+</text>
<text x="1078.8" y="964.0" font-size="38.3" stroke="#000" stroke-width="2.13" stroke-linejoin="miter">+</text>
<text x="700.1" y="1042.7" font-size="38.3" stroke="#000" stroke-width="2.13" stroke-linejoin="miter">+</text>
<text x="780.5" y="1042.7" font-size="38.3" stroke="#000" stroke-width="2.13" stroke-linejoin="miter">+</text>
<text x="861.4" y="1042.7" font-size="38.3" stroke="#000" stroke-width="2.13" stroke-linejoin="miter">+</text>
<text x="931.8" y="1042.7" font-size="38.3" stroke="#000" stroke-width="2.13" stroke-linejoin="miter">+</text>
<text x="1003.9" y="1042.7" font-size="38.3" stroke="#000" stroke-width="2.13" stroke-linejoin="miter">+</text>
<text x="1079.7" y="1042.7" font-size="38.3" stroke="#000" stroke-width="2.13" stroke-linejoin="miter">+</text>
<text x="1147.4" y="1069.0" font-size="25.2">kDa</text>
<text x="1146.7" y="1131.5" font-size="25.4" textLength="15.5" lengthAdjust="spacingAndGlyphs" stroke="#000" stroke-width="0.5">–</text>
<text x="1168.7" y="1131.5" font-size="25.4">25</text>
<text x="1146.7" y="1208.6" font-size="25.4" textLength="15.5" lengthAdjust="spacingAndGlyphs" stroke="#000" stroke-width="0.5">–</text>
<text x="1168.8" y="1208.6" font-size="25.4">50</text>
<text x="1146.7" y="1282.4" font-size="25.4" textLength="15.5" lengthAdjust="spacingAndGlyphs" stroke="#000" stroke-width="0.5">–</text>
<text x="1169.2" y="1282.4" font-size="25.4">40</text>
<text x="1146.7" y="1401.0" font-size="25.4" textLength="15.5" lengthAdjust="spacingAndGlyphs" stroke="#000" stroke-width="0.5">–</text>
<text x="1168.7" y="1401.0" font-size="25.4">25</text>
<text x="1146.7" y="1475.3" font-size="25.4" textLength="15.5" lengthAdjust="spacingAndGlyphs" stroke="#000" stroke-width="0.5">–</text>
<text x="1168.8" y="1475.3" font-size="25.4">50</text>
<text x="1146.7" y="1547.1" font-size="25.4" textLength="15.5" lengthAdjust="spacingAndGlyphs" stroke="#000" stroke-width="0.5">–</text>
<text x="1169.2" y="1547.1" font-size="25.4">40</text>
<text x="238.4" y="1198.3" font-size="34.05">Pull-down</text>
<text x="289.8" y="1456.4" font-size="34.05">Input</text>
<text x="480.9" y="1139.3" font-size="34.05">His-BCL-2</text>
<text x="438.0" y="1250.9" font-size="34.05">GST-p53-DBD</text>
<text x="467.5" y="1410.8" font-size="34.05">His-BCL-2</text>
<text x="438.0" y="1520.0" font-size="34.05">GST-p53-DBD</text>
<path d="M421.4,1089 V1283.2" stroke="#000" stroke-width="4.4" fill="none"/>
<path d="M421.4,1359.4 V1553.5" stroke="#000" stroke-width="4.4" fill="none"/>
<text x="1356.1" y="952.0" font-size="34.05">BH3 peptide</text>
<text x="1563.8" y="949.4" font-size="32.5" style="font-family:'Liberation Sans','Noto Sans CJK SC',sans-serif;font-weight:500">：</text>
<text x="1375.3" y="1013.9" font-size="34.05">2. Bax</text>
<text x="1375.7" y="1075.1" font-size="34.05">3. Bak</text>
<text x="1376.0" y="1136.3" font-size="34.05">4. Bid</text>
<text x="1375.5" y="1197.9" font-size="34.05">5. Bim</text>
<text x="1375.2" y="1259.1" font-size="34.05">6. Puma</text>
<g class="blot">
<clipPath id="cb1"><rect x="670.7" y="1079.1" width="459.3" height="89.9"/></clipPath>
<rect x="670.7" y="1079.1" width="459.3" height="89.9" fill="#f5f5f5"/>
<g clip-path="url(#cb1)">
<g filter="url(#bl2)">
<rect x="681.8" y="1117.1" width="66.0" height="23.0" rx="11.5" fill="#000" fill-opacity="0.40"/>
<rect x="758.9" y="1120.2" width="61.0" height="17.0" rx="8.5" fill="#000" fill-opacity="0.21"/>
<rect x="835.1" y="1121.0" width="58.0" height="15.5" rx="7.8" fill="#000" fill-opacity="0.19"/>
<rect x="908.2" y="1119.0" width="64.0" height="18.0" rx="9.0" fill="#000" fill-opacity="0.34"/>
<rect x="983.8" y="1117.2" width="62.0" height="18.0" rx="9.0" fill="#000" fill-opacity="0.36"/>
<rect x="1060.0" y="1119.3" width="62.0" height="17.0" rx="8.5" fill="#000" fill-opacity="0.31"/>
</g>
<g filter="url(#bl3)">
<rect x="681.8" y="1116.1" width="66.0" height="25.0" rx="10" fill="#000" fill-opacity="0.16"/>
<rect x="908.2" y="1118.0" width="64.0" height="20.0" rx="10" fill="#000" fill-opacity="0.16"/>
<rect x="983.8" y="1116.2" width="62.0" height="20.0" rx="10" fill="#000" fill-opacity="0.16"/>
</g>
<g filter="url(#bl)">
<rect x="684.8" y="1120.1" width="60.0" height="17.0" rx="8.5" ry="8.5" fill="#000"/>
<rect x="761.9" y="1123.2" width="55.0" height="11.0" rx="5.5" ry="5.5" fill="#000" fill-opacity="0.52"/>
<rect x="838.1" y="1124.0" width="52.0" height="9.5" rx="4.8" ry="4.8" fill="#000" fill-opacity="0.47"/>
<rect x="911.2" y="1122.0" width="58.0" height="12.0" rx="6.0" ry="6.0" fill="#000" fill-opacity="0.85"/>
<rect x="986.8" y="1120.2" width="56.0" height="12.0" rx="6.0" ry="6.0" fill="#000" fill-opacity="0.9"/>
<rect x="1063.0" y="1122.3" width="56.0" height="11.0" rx="5.5" ry="5.5" fill="#000" fill-opacity="0.78"/>
</g>
</g>
<rect x="670.7" y="1079.1" width="459.3" height="89.9" fill="none" stroke="#777777" stroke-width="2.3"/>
</g>
<g class="blot">
<clipPath id="cb2"><rect x="670.7" y="1198.5" width="460.8" height="90.2"/></clipPath>
<rect x="670.7" y="1198.5" width="460.8" height="90.2" fill="#f3f3f3"/>
<g clip-path="url(#cb2)">
<g filter="url(#bls)">
<rect x="690.3" y="1241.2" width="52.0" height="77.5" fill="#000" fill-opacity="0.1"/>
<rect x="764.5" y="1243.6" width="53.0" height="75.1" fill="#000" fill-opacity="0.1"/>
<rect x="842.1" y="1243.6" width="50.0" height="75.1" fill="#000" fill-opacity="0.1"/>
<rect x="914.2" y="1245.1" width="52.0" height="73.6" fill="#000" fill-opacity="0.1"/>
<rect x="991.4" y="1244.2" width="50.0" height="74.5" fill="#000" fill-opacity="0.1"/>
<rect x="1063.0" y="1246.7" width="53.0" height="72.0" fill="#000" fill-opacity="0.1"/>
</g>
<g filter="url(#bl2)">
<rect x="684.3" y="1229.2" width="64.0" height="24.0" rx="12.0" fill="#000" fill-opacity="0.40"/>
<rect x="758.5" y="1230.1" width="65.0" height="27.0" rx="12.0" fill="#000" fill-opacity="0.40"/>
<rect x="836.1" y="1231.6" width="62.0" height="24.0" rx="12.0" fill="#000" fill-opacity="0.40"/>
<rect x="908.2" y="1235.1" width="64.0" height="20.0" rx="10.0" fill="#000" fill-opacity="0.40"/>
<rect x="985.4" y="1230.7" width="62.0" height="27.0" rx="12.0" fill="#000" fill-opacity="0.40"/>
<rect x="1057.0" y="1233.2" width="65.0" height="27.0" rx="12.0" fill="#000" fill-opacity="0.40"/>
</g>
<g filter="url(#bl3)">
<rect x="684.3" y="1228.2" width="64.0" height="26.0" rx="10" fill="#000" fill-opacity="0.16"/>
<rect x="758.5" y="1229.1" width="65.0" height="29.0" rx="10" fill="#000" fill-opacity="0.16"/>
<rect x="836.1" y="1230.6" width="62.0" height="26.0" rx="10" fill="#000" fill-opacity="0.16"/>
<rect x="908.2" y="1234.1" width="64.0" height="22.0" rx="10" fill="#000" fill-opacity="0.16"/>
<rect x="985.4" y="1229.7" width="62.0" height="29.0" rx="10" fill="#000" fill-opacity="0.16"/>
<rect x="1057.0" y="1232.2" width="65.0" height="29.0" rx="10" fill="#000" fill-opacity="0.16"/>
</g>
<g filter="url(#bl)">
<rect x="687.3" y="1232.2" width="58.0" height="18.0" rx="9.0" ry="9.0" fill="#000"/>
<rect x="761.5" y="1233.1" width="59.0" height="21.0" rx="9.0" ry="10.5" fill="#000"/>
<rect x="839.1" y="1234.6" width="56.0" height="18.0" rx="9.0" ry="9.0" fill="#000"/>
<rect x="911.2" y="1238.1" width="58.0" height="14.0" rx="7.0" ry="7.0" fill="#000"/>
<rect x="988.4" y="1233.7" width="56.0" height="21.0" rx="9.0" ry="10.5" fill="#000"/>
<rect x="1060.0" y="1236.2" width="59.0" height="21.0" rx="9.0" ry="10.5" fill="#000"/>
</g>
</g>
<rect x="670.7" y="1198.5" width="460.8" height="90.2" fill="none" stroke="#777777" stroke-width="2.3"/>
</g>
<g class="blot">
<clipPath id="cb3"><rect x="666.1" y="1348.7" width="469.1" height="90.8"/></clipPath>
<rect x="666.1" y="1348.7" width="469.1" height="90.8" fill="#f4f4f4"/>
<g clip-path="url(#cb3)">
<g filter="url(#bls)">
<rect x="691.9" y="1402.0" width="55.0" height="67.5" fill="#000" fill-opacity="0.12"/>
<rect x="766.5" y="1399.0" width="55.0" height="70.5" fill="#000" fill-opacity="0.12"/>
<rect x="842.6" y="1399.0" width="52.0" height="70.5" fill="#000" fill-opacity="0.12"/>
<rect x="915.2" y="1400.5" width="50.0" height="69.0" fill="#000" fill-opacity="0.12"/>
<rect x="988.9" y="1402.0" width="55.0" height="67.5" fill="#000" fill-opacity="0.12"/>
<rect x="1063.5" y="1399.6" width="55.0" height="69.9" fill="#000" fill-opacity="0.12"/>
</g>
<g filter="url(#bl2)">
<rect x="685.9" y="1393.0" width="67.0" height="18.0" rx="9.0" fill="#000" fill-opacity="0.34"/>
<rect x="760.5" y="1388.5" width="67.0" height="21.0" rx="10.5" fill="#000" fill-opacity="0.40"/>
<rect x="836.6" y="1389.0" width="64.0" height="20.0" rx="10.0" fill="#000" fill-opacity="0.39"/>
<rect x="909.2" y="1391.5" width="62.0" height="18.0" rx="9.0" fill="#000" fill-opacity="0.36"/>
<rect x="982.9" y="1393.5" width="67.0" height="17.0" rx="8.5" fill="#000" fill-opacity="0.30"/>
<rect x="1057.5" y="1388.1" width="67.0" height="23.0" rx="11.5" fill="#000" fill-opacity="0.40"/>
</g>
<g filter="url(#bl3)">
<rect x="685.9" y="1392.0" width="67.0" height="20.0" rx="10" fill="#000" fill-opacity="0.16"/>
<rect x="760.5" y="1387.5" width="67.0" height="23.0" rx="10" fill="#000" fill-opacity="0.16"/>
<rect x="836.6" y="1388.0" width="64.0" height="22.0" rx="10" fill="#000" fill-opacity="0.16"/>
<rect x="909.2" y="1390.5" width="62.0" height="20.0" rx="10" fill="#000" fill-opacity="0.16"/>
<rect x="1057.5" y="1387.1" width="67.0" height="25.0" rx="10" fill="#000" fill-opacity="0.16"/>
</g>
<g filter="url(#bl)">
<rect x="688.9" y="1396.0" width="61.0" height="12.0" rx="6.0" ry="6.0" fill="#000" fill-opacity="0.85"/>
<rect x="763.5" y="1391.5" width="61.0" height="15.0" rx="7.5" ry="7.5" fill="#000"/>
<rect x="839.6" y="1392.0" width="58.0" height="14.0" rx="7.0" ry="7.0" fill="#000" fill-opacity="0.97"/>
<rect x="912.2" y="1394.5" width="56.0" height="12.0" rx="6.0" ry="6.0" fill="#000" fill-opacity="0.9"/>
<rect x="985.9" y="1396.5" width="61.0" height="11.0" rx="5.5" ry="5.5" fill="#000" fill-opacity="0.75"/>
<rect x="1060.5" y="1391.1" width="61.0" height="17.0" rx="8.5" ry="8.5" fill="#000"/>
</g>
</g>
<rect x="666.1" y="1348.7" width="469.1" height="90.8" fill="none" stroke="#777777" stroke-width="2.3"/>
</g>
<g class="blot">
<clipPath id="cb4"><rect x="666.1" y="1459.9" width="470.6" height="85.3"/></clipPath>
<rect x="666.1" y="1459.9" width="470.6" height="85.3" fill="#f4f4f4"/>
<g clip-path="url(#cb4)">
<g filter="url(#bl2)">
<rect x="690.0" y="1499.1" width="68.0" height="27.0" rx="12.0" fill="#000" fill-opacity="0.40"/>
<rect x="766.0" y="1497.1" width="67.0" height="26.0" rx="12.0" fill="#000" fill-opacity="0.40"/>
<rect x="840.7" y="1498.1" width="65.0" height="24.0" rx="12.0" fill="#000" fill-opacity="0.40"/>
<rect x="913.8" y="1492.1" width="68.0" height="33.0" rx="12.0" fill="#000" fill-opacity="0.40"/>
<rect x="987.8" y="1495.6" width="68.0" height="29.0" rx="12.0" fill="#000" fill-opacity="0.40"/>
<rect x="1060.5" y="1491.1" width="70.0" height="35.0" rx="12.0" fill="#000" fill-opacity="0.40"/>
</g>
<g filter="url(#bl3)">
<rect x="690.0" y="1498.1" width="68.0" height="29.0" rx="10" fill="#000" fill-opacity="0.16"/>
<rect x="766.0" y="1496.1" width="67.0" height="28.0" rx="10" fill="#000" fill-opacity="0.16"/>
<rect x="840.7" y="1497.1" width="65.0" height="26.0" rx="10" fill="#000" fill-opacity="0.16"/>
<rect x="913.8" y="1491.1" width="68.0" height="35.0" rx="10" fill="#000" fill-opacity="0.16"/>
<rect x="987.8" y="1494.6" width="68.0" height="31.0" rx="10" fill="#000" fill-opacity="0.16"/>
<rect x="1060.5" y="1490.1" width="70.0" height="37.0" rx="10" fill="#000" fill-opacity="0.16"/>
</g>
<g filter="url(#bl)">
<rect x="693.0" y="1502.1" width="62.0" height="21.0" rx="9.0" ry="10.5" fill="#000"/>
<rect x="769.0" y="1500.1" width="61.0" height="20.0" rx="9.0" ry="10.0" fill="#000"/>
<rect x="843.7" y="1501.1" width="59.0" height="18.0" rx="9.0" ry="9.0" fill="#000"/>
<rect x="916.8" y="1495.1" width="62.0" height="27.0" rx="9.0" ry="13.5" fill="#000"/>
<rect x="990.8" y="1498.6" width="62.0" height="23.0" rx="9.0" ry="11.5" fill="#000"/>
<rect x="1063.5" y="1494.1" width="64.0" height="29.0" rx="9.0" ry="14.5" fill="#000"/>
</g>
</g>
<rect x="666.1" y="1459.9" width="470.6" height="85.3" fill="none" stroke="#777777" stroke-width="2.3"/>
</g>
</g>
<g id="panel-d">
<text x="458.2" y="1673.8" font-size="34" text-anchor="middle">1</text>
<text x="510.2" y="1673.8" font-size="34">2</text>
<text x="565.8" y="1673.8" font-size="34">3</text>
<text x="625.2" y="1673.8" font-size="34">4</text>
<text x="691.9" y="1673.8" font-size="34">5</text>
<text x="258.9" y="1721.5" font-size="34.3">p53-DBD</text>
<text x="216.0" y="1776.2" font-size="34.25">Bax protein</text>
<text x="223.0" y="1828.4" font-size="34.3">GST-BCL-2</text>
<text x="454.9" y="1725.0" font-size="36.9" stroke="#000" stroke-width="1.20" stroke-linejoin="miter">-</text>
<path d="M489.5,1722 L703.6,1722 L703.6,1693.6 Z" fill="#808080" stroke="#000" stroke-width="1.6" stroke-linejoin="miter"/>
<text x="446.0" y="1771.0" font-size="31.5" stroke="#000" stroke-width="1.75" stroke-linejoin="miter">+</text>
<text x="505.0" y="1771.0" font-size="31.5" stroke="#000" stroke-width="1.75" stroke-linejoin="miter">+</text>
<text x="562.8" y="1771.0" font-size="31.5" stroke="#000" stroke-width="1.75" stroke-linejoin="miter">+</text>
<text x="617.6" y="1771.0" font-size="31.5" stroke="#000" stroke-width="1.75" stroke-linejoin="miter">+</text>
<text x="676.0" y="1771.0" font-size="31.5" stroke="#000" stroke-width="1.75" stroke-linejoin="miter">+</text>
<text x="446.0" y="1825.4" font-size="31.5" stroke="#000" stroke-width="1.75" stroke-linejoin="miter">+</text>
<text x="505.0" y="1825.4" font-size="31.5" stroke="#000" stroke-width="1.75" stroke-linejoin="miter">+</text>
<text x="562.8" y="1825.4" font-size="31.5" stroke="#000" stroke-width="1.75" stroke-linejoin="miter">+</text>
<text x="617.6" y="1825.4" font-size="31.5" stroke="#000" stroke-width="1.75" stroke-linejoin="miter">+</text>
<text x="676.0" y="1825.4" font-size="31.5" stroke="#000" stroke-width="1.75" stroke-linejoin="miter">+</text>
<text x="735.4" y="1845.2" font-size="25.2">kDa</text>
<text x="734.6" y="1907.8" font-size="25.4" textLength="15.5" lengthAdjust="spacingAndGlyphs" stroke="#000" stroke-width="0.5">–</text>
<text x="757.4" y="1907.8" font-size="25.4">25</text>
<text x="734.6" y="2015.6" font-size="25.4" textLength="15.5" lengthAdjust="spacingAndGlyphs" stroke="#000" stroke-width="0.5">–</text>
<text x="757.9" y="2015.6" font-size="25.4">15</text>
<text x="734.6" y="2077.1" font-size="25.4" textLength="15.5" lengthAdjust="spacingAndGlyphs" stroke="#000" stroke-width="0.5">–</text>
<text x="757.5" y="2077.1" font-size="25.4">50</text>
<text x="734.6" y="2141.8" font-size="25.4" textLength="15.5" lengthAdjust="spacingAndGlyphs" stroke="#000" stroke-width="0.5">–</text>
<text x="757.9" y="2141.8" font-size="25.4">40</text>
<text x="734.6" y="2255.2" font-size="25.4" textLength="15.5" lengthAdjust="spacingAndGlyphs" stroke="#000" stroke-width="0.5">–</text>
<text x="757.4" y="2255.2" font-size="25.4">25</text>
<text x="734.6" y="2360.2" font-size="25.4" textLength="15.5" lengthAdjust="spacingAndGlyphs" stroke="#000" stroke-width="0.5">–</text>
<text x="757.9" y="2360.2" font-size="25.4">15</text>
<text x="734.6" y="2424.4" font-size="25.4" textLength="15.5" lengthAdjust="spacingAndGlyphs" stroke="#000" stroke-width="0.5">–</text>
<text x="757.5" y="2424.4" font-size="25.4">50</text>
<text x="734.6" y="2490.3" font-size="25.4" textLength="15.5" lengthAdjust="spacingAndGlyphs" stroke="#000" stroke-width="0.5">–</text>
<text x="757.9" y="2490.3" font-size="25.4">40</text>
<text x="24.3" y="2007.9" font-size="34.3">Pull-down</text>
<text x="56.9" y="2358.8" font-size="34.3">Input</text>
<text x="260.5" y="1905.5" font-size="34.3">p53-DBD</text>
<text x="295.5" y="2000.6" font-size="34.3">Bax</text>
<text x="222.8" y="2111.0" font-size="34.3">GST-BCL-2</text>
<text x="266.4" y="2258.8" font-size="34.3">p53-DBD</text>
<text x="311.4" y="2360.0" font-size="34.3">Bax</text>
<text x="229.2" y="2464.0" font-size="34.3">GST-BCL-2</text>
<path d="M199.2,1872.2 V2138.6" stroke="#000" stroke-width="4.4" fill="none"/>
<path d="M199.2,2214 V2481" stroke="#000" stroke-width="4.4" fill="none"/>
<g class="blot">
<clipPath id="cb5"><rect x="421.5" y="1852.6" width="308.2" height="77.0"/></clipPath>
<rect x="421.5" y="1852.6" width="308.2" height="77.0" fill="#fbfbfb"/>
<g clip-path="url(#cb5)">
<ellipse cx="432" cy="1893" rx="36" ry="52" fill="#000" fill-opacity="0.075" filter="url(#bl3)"/><ellipse cx="690" cy="1860" rx="55" ry="20" fill="#000" fill-opacity="0.07" filter="url(#bl3)"/>
<g filter="url(#bl2)">
<rect x="489.6" y="1888.1" width="46.0" height="21.0" rx="10.5" fill="#000" fill-opacity="0.17"/>
<rect x="546.1" y="1889.3" width="46.0" height="20.0" rx="10.0" fill="#000" fill-opacity="0.18"/>
<rect x="601.0" y="1889.8" width="46.0" height="21.0" rx="10.5" fill="#000" fill-opacity="0.28"/>
<rect x="630.0" y="1891.8" width="20.0" height="20.0" rx="10.0" fill="#000" fill-opacity="0.40"/>
<rect x="657.6" y="1889.6" width="52.0" height="30.0" rx="12.0" fill="#000" fill-opacity="0.40"/>
</g>
<g filter="url(#bl3)">
<rect x="657.6" y="1888.6" width="52.0" height="32.0" rx="10" fill="#000" fill-opacity="0.16"/>
</g>
<g filter="url(#bl)">
<rect x="492.6" y="1891.1" width="40.0" height="15.0" rx="7.5" ry="7.5" fill="#000" fill-opacity="0.42"/>
<rect x="549.1" y="1892.3" width="40.0" height="14.0" rx="7.0" ry="7.0" fill="#000" fill-opacity="0.45"/>
<rect x="604.0" y="1892.8" width="40.0" height="15.0" rx="7.5" ry="7.5" fill="#000" fill-opacity="0.7"/>
<rect x="633.0" y="1894.8" width="14.0" height="14.0" rx="7.0" ry="7.0" fill="#000"/>
<rect x="660.6" y="1892.6" width="46.0" height="24.0" rx="9.0" ry="12.0" fill="#000"/>
</g>
</g>
<rect x="421.5" y="1852.6" width="308.2" height="77.0" fill="none" stroke="#777777" stroke-width="2.3"/>
</g>
<g class="blot">
<clipPath id="cb6"><rect x="421.5" y="1957.7" width="308.2" height="73.9"/></clipPath>
<rect x="421.5" y="1957.7" width="308.2" height="73.9" fill="#ffffff"/>
<g clip-path="url(#cb6)">
<g filter="url(#bl2)">
<rect x="429.2" y="1976.8" width="58.0" height="30.0" rx="12.0" fill="#000" fill-opacity="0.45"/>
<rect x="492.8" y="1979.9" width="50.0" height="30.0" rx="12.0" fill="#000" fill-opacity="0.45"/>
<rect x="550.4" y="1983.2" width="50.0" height="25.5" rx="12.0" fill="#000" fill-opacity="0.32"/>
<rect x="607.0" y="1984.3" width="50.0" height="24.5" rx="12.0" fill="#000" fill-opacity="0.26"/>
<rect x="663.5" y="1985.4" width="50.0" height="22.4" rx="11.2" fill="#000" fill-opacity="0.16"/>
</g>
<g filter="url(#bl3)">
<rect x="430.2" y="1979.8" width="56.0" height="24.0" rx="10" fill="#000" fill-opacity="0.16"/>
<rect x="493.8" y="1982.9" width="48.0" height="24.0" rx="10" fill="#000" fill-opacity="0.16"/>
</g>
<g filter="url(#bl)">
<rect x="433.2" y="1983.8" width="50.0" height="16.0" rx="8.0" ry="8.0" fill="#000"/>
<rect x="496.8" y="1986.9" width="42.0" height="16.0" rx="8.0" ry="8.0" fill="#000"/>
<rect x="554.4" y="1990.2" width="42.0" height="11.5" rx="5.8" ry="5.8" fill="#000" fill-opacity="0.7"/>
<rect x="611.0" y="1991.3" width="42.0" height="10.5" rx="5.2" ry="5.2" fill="#000" fill-opacity="0.58"/>
<rect x="667.5" y="1992.4" width="42.0" height="8.4" rx="4.2" ry="4.2" fill="#000" fill-opacity="0.36"/>
</g>
</g>
<rect x="421.5" y="1957.7" width="308.2" height="73.9" fill="none" stroke="#777777" stroke-width="2.3"/>
</g>
<g class="blot">
<clipPath id="cb7"><rect x="421.5" y="2055.7" width="308.2" height="84.3"/></clipPath>
<rect x="421.5" y="2055.7" width="308.2" height="84.3" fill="#f8f8f8"/>
<g clip-path="url(#cb7)">
<g filter="url(#bl2)">
<rect x="432.2" y="2088.2" width="52.0" height="27.0" rx="12.0" fill="#000" fill-opacity="0.40"/>
<rect x="490.7" y="2092.4" width="48.0" height="18.6" rx="9.3" fill="#000" fill-opacity="0.40"/>
<rect x="546.1" y="2090.8" width="44.0" height="21.7" rx="10.8" fill="#000" fill-opacity="0.40"/>
<rect x="603.9" y="2087.7" width="52.0" height="28.0" rx="12.0" fill="#000" fill-opacity="0.40"/>
<rect x="660.5" y="2089.2" width="56.0" height="25.0" rx="12.0" fill="#000" fill-opacity="0.40"/>
</g>
<g filter="url(#bl3)">
<rect x="432.2" y="2087.2" width="52.0" height="29.0" rx="10" fill="#000" fill-opacity="0.16"/>
<rect x="490.7" y="2091.4" width="48.0" height="20.6" rx="10" fill="#000" fill-opacity="0.16"/>
<rect x="546.1" y="2089.8" width="44.0" height="23.7" rx="10" fill="#000" fill-opacity="0.16"/>
<rect x="603.9" y="2086.7" width="52.0" height="30.0" rx="10" fill="#000" fill-opacity="0.16"/>
<rect x="660.5" y="2088.2" width="56.0" height="27.0" rx="10" fill="#000" fill-opacity="0.16"/>
</g>
<g filter="url(#bl)">
<rect x="435.2" y="2091.2" width="46.0" height="21.0" rx="9.0" ry="10.5" fill="#000"/>
<rect x="493.7" y="2095.4" width="42.0" height="12.6" rx="6.3" ry="6.3" fill="#000"/>
<rect x="549.1" y="2093.8" width="38.0" height="15.7" rx="7.8" ry="7.8" fill="#000"/>
<rect x="606.9" y="2090.7" width="46.0" height="22.0" rx="9.0" ry="11.0" fill="#000"/>
<rect x="663.5" y="2092.2" width="50.0" height="19.0" rx="9.0" ry="9.5" fill="#000" transform="rotate(5 688.5 2101.7)"/>
</g>
</g>
<rect x="421.5" y="2055.7" width="308.2" height="84.3" fill="none" stroke="#777777" stroke-width="2.3"/>
</g>
<g class="blot">
<clipPath id="cb8"><rect x="421.5" y="2202.9" width="308.2" height="82.3"/></clipPath>
<rect x="421.5" y="2202.9" width="308.2" height="82.3" fill="#f0f0f0"/>
<g clip-path="url(#cb8)">
<g filter="url(#bl2)">
<rect x="485.3" y="2234.1" width="42.0" height="16.5" rx="8.2" fill="#000" fill-opacity="0.13"/>
<rect x="541.0" y="2231.8" width="50.0" height="23.0" rx="11.5" fill="#000" fill-opacity="0.40"/>
<rect x="598.7" y="2226.3" width="54.0" height="32.0" rx="12.0" fill="#000" fill-opacity="0.40"/>
<rect x="653.9" y="2224.8" width="65.0" height="35.0" rx="12.0" fill="#000" fill-opacity="0.40"/>
</g>
<g filter="url(#bl3)">
<rect x="541.0" y="2230.8" width="50.0" height="25.0" rx="10" fill="#000" fill-opacity="0.16"/>
<rect x="598.7" y="2225.3" width="54.0" height="34.0" rx="10" fill="#000" fill-opacity="0.16"/>
<rect x="653.9" y="2223.8" width="65.0" height="37.0" rx="10" fill="#000" fill-opacity="0.16"/>
</g>
<g filter="url(#bl)">
<rect x="488.3" y="2237.1" width="36.0" height="10.5" rx="5.2" ry="5.2" fill="#000" fill-opacity="0.33"/>
<rect x="544.0" y="2234.8" width="44.0" height="17.0" rx="8.5" ry="8.5" fill="#000"/>
<rect x="601.7" y="2229.3" width="48.0" height="26.0" rx="9.0" ry="13.0" fill="#000"/>
<rect x="656.9" y="2227.8" width="59.0" height="29.0" rx="9.0" ry="14.5" fill="#000"/>
</g>
</g>
<rect x="421.5" y="2202.9" width="308.2" height="82.3" fill="none" stroke="#777777" stroke-width="2.3"/>
</g>
<g class="blot">
<clipPath id="cb9"><rect x="421.5" y="2307.8" width="308.2" height="79.0"/></clipPath>
<rect x="421.5" y="2307.8" width="308.2" height="79.0" fill="#f4f4f4"/>
<g clip-path="url(#cb9)">
<g filter="url(#bl2)">
<rect x="430.0" y="2335.0" width="50.0" height="24.0" rx="12.0" fill="#000" fill-opacity="0.40"/>
<rect x="484.5" y="2330.3" width="52.0" height="25.0" rx="12.0" fill="#000" fill-opacity="0.40"/>
<rect x="541.1" y="2329.3" width="54.0" height="25.0" rx="12.0" fill="#000" fill-opacity="0.40"/>
<rect x="599.7" y="2332.2" width="52.0" height="20.0" rx="10.0" fill="#000" fill-opacity="0.38"/>
<rect x="660.5" y="2329.8" width="58.0" height="23.0" rx="11.5" fill="#000" fill-opacity="0.40"/>
</g>
<g filter="url(#bl3)">
<rect x="430.0" y="2334.0" width="50.0" height="26.0" rx="10" fill="#000" fill-opacity="0.16"/>
<rect x="484.5" y="2329.3" width="52.0" height="27.0" rx="10" fill="#000" fill-opacity="0.16"/>
<rect x="541.1" y="2328.3" width="54.0" height="27.0" rx="10" fill="#000" fill-opacity="0.16"/>
<rect x="599.7" y="2331.2" width="52.0" height="22.0" rx="10" fill="#000" fill-opacity="0.16"/>
<rect x="660.5" y="2328.8" width="58.0" height="25.0" rx="10" fill="#000" fill-opacity="0.16"/>
</g>
<g filter="url(#bl)">
<rect x="433.0" y="2338.0" width="44.0" height="18.0" rx="9.0" ry="9.0" fill="#000"/>
<rect x="487.5" y="2333.3" width="46.0" height="19.0" rx="9.0" ry="9.5" fill="#000"/>
<rect x="544.1" y="2332.3" width="48.0" height="19.0" rx="9.0" ry="9.5" fill="#000"/>
<rect x="602.7" y="2335.2" width="46.0" height="14.0" rx="7.0" ry="7.0" fill="#000" fill-opacity="0.95"/>
<rect x="663.5" y="2332.8" width="52.0" height="17.0" rx="8.5" ry="8.5" fill="#000"/>
</g>
</g>
<rect x="421.5" y="2307.8" width="308.2" height="79.0" fill="none" stroke="#777777" stroke-width="2.3"/>
</g>
<g class="blot">
<clipPath id="cb10"><rect x="421.5" y="2409.2" width="309.9" height="89.2"/></clipPath>
<rect x="421.5" y="2409.2" width="309.9" height="89.2" fill="#f6f6f6"/>
<g clip-path="url(#cb10)">
<g filter="url(#bl2)">
<rect x="423.3" y="2439.9" width="53.0" height="27.0" rx="12.0" fill="#000" fill-opacity="0.40"/>
<rect x="481.9" y="2441.3" width="53.0" height="22.0" rx="11.0" fill="#000" fill-opacity="0.40"/>
<rect x="542.7" y="2441.7" width="52.0" height="20.0" rx="10.0" fill="#000" fill-opacity="0.40"/>
<rect x="603.8" y="2442.9" width="50.0" height="17.5" rx="8.8" fill="#000" fill-opacity="0.40"/>
<rect x="661.5" y="2439.3" width="56.0" height="24.0" rx="12.0" fill="#000" fill-opacity="0.40"/>
</g>
<g filter="url(#bl3)">
<rect x="423.3" y="2438.9" width="53.0" height="29.0" rx="10" fill="#000" fill-opacity="0.16"/>
<rect x="481.9" y="2440.3" width="53.0" height="24.0" rx="10" fill="#000" fill-opacity="0.16"/>
<rect x="542.7" y="2440.7" width="52.0" height="22.0" rx="10" fill="#000" fill-opacity="0.16"/>
<rect x="603.8" y="2441.9" width="50.0" height="19.5" rx="10" fill="#000" fill-opacity="0.16"/>
<rect x="661.5" y="2438.3" width="56.0" height="26.0" rx="10" fill="#000" fill-opacity="0.16"/>
</g>
<g filter="url(#bl)">
<rect x="426.3" y="2442.9" width="47.0" height="21.0" rx="9.0" ry="10.5" fill="#000"/>
<rect x="484.9" y="2444.3" width="47.0" height="16.0" rx="8.0" ry="8.0" fill="#000"/>
<rect x="545.7" y="2444.7" width="46.0" height="14.0" rx="7.0" ry="7.0" fill="#000"/>
<rect x="606.8" y="2445.9" width="44.0" height="11.5" rx="5.8" ry="5.8" fill="#000"/>
<rect x="664.5" y="2442.3" width="50.0" height="18.0" rx="9.0" ry="9.0" fill="#000"/>
</g>
</g>
<rect x="421.5" y="2409.2" width="309.9" height="89.2" fill="none" stroke="#777777" stroke-width="2.3"/>
</g>
</g>
<g id="panel-e">
<text x="1344.6" y="1672.8" font-size="34" text-anchor="middle">1</text>
<text x="1396.7" y="1672.8" font-size="34">2</text>
<text x="1452.3" y="1672.8" font-size="34">3</text>
<text x="1511.6" y="1672.8" font-size="34">4</text>
<text x="1578.3" y="1672.8" font-size="34">5</text>
<text x="1135.0" y="1721.5" font-size="34.3">p53-DBD</text>
<text x="1091.8" y="1776.2" font-size="34.3">Bak protein</text>
<text x="1098.8" y="1828.4" font-size="34.3">GST-BCL-2</text>
<text x="1341.6" y="1727.6" font-size="36.9" stroke="#000" stroke-width="1.20" stroke-linejoin="miter">-</text>
<path d="M1386.4,1722 L1600.5,1722 L1600.5,1693.6 Z" fill="#808080" stroke="#000" stroke-width="1.6" stroke-linejoin="miter"/>
<text x="1332.1" y="1773.1" font-size="31.5" stroke="#000" stroke-width="1.75" stroke-linejoin="miter">+</text>
<text x="1391.4" y="1773.1" font-size="31.5" stroke="#000" stroke-width="1.75" stroke-linejoin="miter">+</text>
<text x="1449.2" y="1773.1" font-size="31.5" stroke="#000" stroke-width="1.75" stroke-linejoin="miter">+</text>
<text x="1512.9" y="1773.1" font-size="31.5" stroke="#000" stroke-width="1.75" stroke-linejoin="miter">+</text>
<text x="1578.6" y="1773.1" font-size="31.5" stroke="#000" stroke-width="1.75" stroke-linejoin="miter">+</text>
<text x="1332.1" y="1828.0" font-size="31.5" stroke="#000" stroke-width="1.75" stroke-linejoin="miter">+</text>
<text x="1391.4" y="1828.0" font-size="31.5" stroke="#000" stroke-width="1.75" stroke-linejoin="miter">+</text>
<text x="1449.2" y="1828.0" font-size="31.5" stroke="#000" stroke-width="1.75" stroke-linejoin="miter">+</text>
<text x="1512.9" y="1828.0" font-size="31.5" stroke="#000" stroke-width="1.75" stroke-linejoin="miter">+</text>
<text x="1578.6" y="1828.0" font-size="31.5" stroke="#000" stroke-width="1.75" stroke-linejoin="miter">+</text>
<text x="1638.4" y="1845.2" font-size="25.2">kDa</text>
<text x="1638.4" y="1907.8" font-size="25.4" textLength="15.5" lengthAdjust="spacingAndGlyphs" stroke="#000" stroke-width="0.5">–</text>
<text x="1659.9" y="1907.8" font-size="25.4">25</text>
<text x="1638.4" y="2015.6" font-size="25.4" textLength="15.5" lengthAdjust="spacingAndGlyphs" stroke="#000" stroke-width="0.5">–</text>
<text x="1660.4" y="2015.6" font-size="25.4">15</text>
<text x="1638.4" y="2077.1" font-size="25.4" textLength="15.5" lengthAdjust="spacingAndGlyphs" stroke="#000" stroke-width="0.5">–</text>
<text x="1660.0" y="2077.1" font-size="25.4">50</text>
<text x="1638.4" y="2141.8" font-size="25.4" textLength="15.5" lengthAdjust="spacingAndGlyphs" stroke="#000" stroke-width="0.5">–</text>
<text x="1660.4" y="2141.8" font-size="25.4">40</text>
<text x="1638.4" y="2255.1" font-size="25.4" textLength="15.5" lengthAdjust="spacingAndGlyphs" stroke="#000" stroke-width="0.5">–</text>
<text x="1659.9" y="2255.1" font-size="25.4">25</text>
<text x="1638.4" y="2360.2" font-size="25.4" textLength="15.5" lengthAdjust="spacingAndGlyphs" stroke="#000" stroke-width="0.5">–</text>
<text x="1660.4" y="2360.2" font-size="25.4">15</text>
<text x="1638.4" y="2426.8" font-size="25.4" textLength="15.5" lengthAdjust="spacingAndGlyphs" stroke="#000" stroke-width="0.5">–</text>
<text x="1660.0" y="2426.8" font-size="25.4">50</text>
<text x="1638.4" y="2485.3" font-size="25.4" textLength="15.5" lengthAdjust="spacingAndGlyphs" stroke="#000" stroke-width="0.5">–</text>
<text x="1660.4" y="2485.3" font-size="25.4">40</text>
<text x="900.6" y="2007.9" font-size="34.3">Pull-down</text>
<text x="947.3" y="2350.5" font-size="34.3">Input</text>
<text x="1127.6" y="1905.5" font-size="34.3">p53-DBD</text>
<text x="1171.9" y="2000.6" font-size="34.3">Bak</text>
<text x="1099.5" y="2111.0" font-size="34.3">GST-BCL-2</text>
<text x="1132.3" y="2258.8" font-size="34.3">p53-DBD</text>
<text x="1187.4" y="2353.0" font-size="34.3">Bak</text>
<text x="1106.1" y="2464.0" font-size="34.3">GST-BCL-2</text>
<path d="M1075.6,1872 V2138.6" stroke="#000" stroke-width="4.4" fill="none"/>
<path d="M1075.6,2214 V2481" stroke="#000" stroke-width="4.4" fill="none"/>
<defs><linearGradient id="ge1" x1="0" y1="0" x2="0" y2="1"><stop offset="0" stop-color="#cdcdcd"/><stop offset="0.3" stop-color="#dedede"/><stop offset="0.62" stop-color="#e9e9e9"/><stop offset="1" stop-color="#ededed"/></linearGradient></defs>
<g class="blot">
<clipPath id="cb11"><rect x="1294.9" y="1853.1" width="327.2" height="78.8"/></clipPath>
<rect x="1294.9" y="1853.1" width="327.2" height="78.8" fill="url(#ge1)"/>
<g clip-path="url(#cb11)">
<rect x="1285" y="1850" width="90" height="45" fill="#fff" fill-opacity="0.35" filter="url(#bl3)"/><ellipse cx="1313.5" cy="1879" rx="5" ry="5" fill="#000" fill-opacity="0.25" filter="url(#bl)"/>
<g filter="url(#bl2)">
<rect x="1375.7" y="1889.3" width="44.0" height="13.0" rx="6.5" fill="#000" fill-opacity="0.19"/>
<rect x="1380.5" y="1889.7" width="16.0" height="13.0" rx="6.5" fill="#000" fill-opacity="0.17"/>
<rect x="1435.9" y="1888.3" width="44.0" height="12.0" rx="6.0" fill="#000" fill-opacity="0.19"/>
<rect x="1439.5" y="1889.0" width="16.0" height="12.0" rx="6.0" fill="#000" fill-opacity="0.14"/>
<rect x="1492.5" y="1884.8" width="49.0" height="14.5" rx="7.2" fill="#000" fill-opacity="0.35"/>
<rect x="1554.6" y="1880.7" width="54.0" height="18.5" rx="9.2" fill="#000" fill-opacity="0.35"/>
</g>
<g filter="url(#bl3)">
<rect x="1491.5" y="1882.8" width="51.0" height="18.5" rx="10" fill="#000" fill-opacity="0.16"/>
<rect x="1553.6" y="1878.7" width="56.0" height="22.5" rx="10" fill="#000" fill-opacity="0.16"/>
</g>
<g filter="url(#bl)">
<rect x="1377.7" y="1891.3" width="40.0" height="9.0" rx="4.5" ry="4.5" fill="#000" fill-opacity="0.55"/>
<rect x="1382.5" y="1891.7" width="12.0" height="9.0" rx="4.5" ry="4.5" fill="#000" fill-opacity="0.5"/>
<rect x="1437.9" y="1890.3" width="40.0" height="8.0" rx="4.0" ry="4.0" fill="#000" fill-opacity="0.55"/>
<rect x="1441.5" y="1891.0" width="12.0" height="8.0" rx="4.0" ry="4.0" fill="#000" fill-opacity="0.4"/>
<rect x="1494.5" y="1886.8" width="45.0" height="10.5" rx="5.2" ry="5.2" fill="#000"/>
<rect x="1556.6" y="1882.7" width="50.0" height="14.5" rx="7.2" ry="7.2" fill="#000"/>
</g>
</g>
<rect x="1294.9" y="1853.1" width="327.2" height="78.8" fill="none" stroke="#777777" stroke-width="2.3"/>
</g>
<g class="blot">
<clipPath id="cb12"><rect x="1292.7" y="1952.3" width="329.4" height="88.7"/></clipPath>
<rect x="1292.7" y="1952.3" width="329.4" height="88.7" fill="#ffffff"/>
<g clip-path="url(#cb12)">
<g filter="url(#bl2)">
<rect x="1309.6" y="1982.0" width="58.0" height="26.0" rx="12.0" fill="#000" fill-opacity="0.42"/>
<rect x="1371.3" y="1981.7" width="55.0" height="23.0" rx="11.5" fill="#000" fill-opacity="0.38"/>
<rect x="1432.1" y="1981.1" width="56.0" height="22.0" rx="11.0" fill="#000" fill-opacity="0.29"/>
<rect x="1492.3" y="1980.0" width="56.0" height="22.0" rx="11.0" fill="#000" fill-opacity="0.28"/>
<rect x="1555.4" y="1981.2" width="59.0" height="21.0" rx="10.5" fill="#000" fill-opacity="0.28"/>
</g>
<g filter="url(#bl3)">
<rect x="1310.6" y="1984.0" width="56.0" height="22.0" rx="10" fill="#000" fill-opacity="0.16"/>
<rect x="1372.3" y="1983.7" width="53.0" height="19.0" rx="10" fill="#000" fill-opacity="0.16"/>
</g>
<g filter="url(#bl)">
<rect x="1313.6" y="1988.0" width="50.0" height="14.0" rx="7.0" ry="7.0" fill="#000"/>
<rect x="1375.3" y="1987.7" width="47.0" height="11.0" rx="5.5" ry="5.5" fill="#000" fill-opacity="0.9"/>
<rect x="1436.1" y="1987.1" width="48.0" height="10.0" rx="5.0" ry="5.0" fill="#000" fill-opacity="0.68"/>
<rect x="1496.3" y="1986.0" width="48.0" height="10.0" rx="5.0" ry="5.0" fill="#000" fill-opacity="0.66"/>
<rect x="1559.4" y="1987.2" width="51.0" height="9.0" rx="4.5" ry="4.5" fill="#000" fill-opacity="0.66"/>
</g>
</g>
<rect x="1292.7" y="1952.3" width="329.4" height="88.7" fill="none" stroke="#777777" stroke-width="2.3"/>
</g>
<g class="blot">
<clipPath id="cb13"><rect x="1292.7" y="2060.7" width="329.4" height="84.0"/></clipPath>
<rect x="1292.7" y="2060.7" width="329.4" height="84.0" fill="#f4f4f4"/>
<g clip-path="url(#cb13)">
<g filter="url(#bls)">
<rect x="1317.1" y="2099.4" width="43.0" height="75.3" fill="#000" fill-opacity="0.14"/>
<rect x="1378.3" y="2098.3" width="41.0" height="76.4" fill="#000" fill-opacity="0.14"/>
<rect x="1438.6" y="2099.4" width="43.0" height="75.3" fill="#000" fill-opacity="0.14"/>
<rect x="1499.3" y="2100.0" width="42.0" height="74.7" fill="#000" fill-opacity="0.14"/>
<rect x="1561.3" y="2100.0" width="45.0" height="74.7" fill="#000" fill-opacity="0.14"/>
</g>
<g filter="url(#bl2)">
<rect x="1311.1" y="2090.4" width="55.0" height="18.0" rx="9.0" fill="#000" fill-opacity="0.40"/>
<rect x="1372.3" y="2088.8" width="53.0" height="19.0" rx="9.5" fill="#000" fill-opacity="0.40"/>
<rect x="1432.6" y="2089.9" width="55.0" height="19.0" rx="9.5" fill="#000" fill-opacity="0.40"/>
<rect x="1493.3" y="2089.5" width="54.0" height="21.0" rx="10.5" fill="#000" fill-opacity="0.40"/>
<rect x="1555.3" y="2091.0" width="57.0" height="18.0" rx="9.0" fill="#000" fill-opacity="0.40"/>
</g>
<g filter="url(#bl3)">
<rect x="1311.1" y="2089.4" width="55.0" height="20.0" rx="10" fill="#000" fill-opacity="0.16"/>
<rect x="1372.3" y="2087.8" width="53.0" height="21.0" rx="10" fill="#000" fill-opacity="0.16"/>
<rect x="1432.6" y="2088.9" width="55.0" height="21.0" rx="10" fill="#000" fill-opacity="0.16"/>
<rect x="1493.3" y="2088.5" width="54.0" height="23.0" rx="10" fill="#000" fill-opacity="0.16"/>
<rect x="1555.3" y="2090.0" width="57.0" height="20.0" rx="10" fill="#000" fill-opacity="0.16"/>
</g>
<g filter="url(#bl)">
<rect x="1314.1" y="2093.4" width="49.0" height="12.0" rx="6.0" ry="6.0" fill="#000"/>
<rect x="1375.3" y="2091.8" width="47.0" height="13.0" rx="6.5" ry="6.5" fill="#000"/>
<rect x="1435.6" y="2092.9" width="49.0" height="13.0" rx="6.5" ry="6.5" fill="#000"/>
<rect x="1496.3" y="2092.5" width="48.0" height="15.0" rx="7.5" ry="7.5" fill="#000"/>
<rect x="1558.3" y="2094.0" width="51.0" height="12.0" rx="6.0" ry="6.0" fill="#000"/>
</g>
</g>
<rect x="1292.7" y="2060.7" width="329.4" height="84.0" fill="none" stroke="#777777" stroke-width="2.3"/>
</g>
<g class="blot">
<clipPath id="cb14"><rect x="1291.6" y="2205.7" width="329.2" height="78.2"/></clipPath>
<rect x="1291.6" y="2205.7" width="329.2" height="78.2" fill="#f8f8f8"/>
<g clip-path="url(#cb14)">
<g filter="url(#bl2)">
<rect x="1374.8" y="2243.1" width="48.0" height="15.0" rx="7.5" fill="#000" fill-opacity="0.20"/>
<rect x="1431.4" y="2241.5" width="53.0" height="17.0" rx="8.5" fill="#000" fill-opacity="0.35"/>
<rect x="1492.8" y="2239.8" width="55.0" height="24.6" rx="12.0" fill="#000" fill-opacity="0.40"/>
<rect x="1550.1" y="2236.3" width="63.0" height="33.0" rx="12.0" fill="#000" fill-opacity="0.40"/>
</g>
<g filter="url(#bl3)">
<rect x="1431.4" y="2240.5" width="53.0" height="19.0" rx="10" fill="#000" fill-opacity="0.16"/>
<rect x="1492.8" y="2238.8" width="55.0" height="26.6" rx="10" fill="#000" fill-opacity="0.16"/>
<rect x="1550.1" y="2235.3" width="63.0" height="35.0" rx="10" fill="#000" fill-opacity="0.16"/>
</g>
<g filter="url(#bl)">
<rect x="1377.8" y="2246.1" width="42.0" height="9.0" rx="4.5" ry="4.5" fill="#000" fill-opacity="0.5"/>
<rect x="1434.4" y="2244.5" width="47.0" height="11.0" rx="5.5" ry="5.5" fill="#000" fill-opacity="0.88"/>
<rect x="1495.8" y="2242.8" width="49.0" height="18.6" rx="9.0" ry="9.3" fill="#000"/>
<rect x="1553.1" y="2239.3" width="57.0" height="27.0" rx="9.0" ry="13.5" fill="#000"/>
</g>
</g>
<rect x="1291.6" y="2205.7" width="329.2" height="78.2" fill="none" stroke="#777777" stroke-width="2.3"/>
</g>
<g class="blot">
<clipPath id="cb15"><rect x="1291.6" y="2309.7" width="329.2" height="82.6"/></clipPath>
<rect x="1291.6" y="2309.7" width="329.2" height="82.6" fill="#f8f8f8"/>
<g clip-path="url(#cb15)">
<g filter="url(#bl2)">
<rect x="1314.2" y="2344.9" width="51.0" height="18.0" rx="9.0" fill="#000" fill-opacity="0.40"/>
<rect x="1369.7" y="2345.4" width="56.0" height="18.0" rx="9.0" fill="#000" fill-opacity="0.40"/>
<rect x="1429.9" y="2345.4" width="56.0" height="17.0" rx="8.5" fill="#000" fill-opacity="0.37"/>
<rect x="1492.8" y="2342.8" width="55.0" height="20.0" rx="10.0" fill="#000" fill-opacity="0.40"/>
<rect x="1554.2" y="2342.8" width="57.0" height="20.0" rx="10.0" fill="#000" fill-opacity="0.40"/>
</g>
<g filter="url(#bl3)">
<rect x="1314.2" y="2343.9" width="51.0" height="20.0" rx="10" fill="#000" fill-opacity="0.16"/>
<rect x="1369.7" y="2344.4" width="56.0" height="20.0" rx="10" fill="#000" fill-opacity="0.16"/>
<rect x="1429.9" y="2344.4" width="56.0" height="19.0" rx="10" fill="#000" fill-opacity="0.16"/>
<rect x="1492.8" y="2341.8" width="55.0" height="22.0" rx="10" fill="#000" fill-opacity="0.16"/>
<rect x="1554.2" y="2341.8" width="57.0" height="22.0" rx="10" fill="#000" fill-opacity="0.16"/>
</g>
<g filter="url(#bl)">
<rect x="1317.2" y="2347.9" width="45.0" height="12.0" rx="6.0" ry="6.0" fill="#000" transform="rotate(7 1339.7 2353.9)"/>
<rect x="1372.7" y="2348.4" width="50.0" height="12.0" rx="6.0" ry="6.0" fill="#000" transform="rotate(-5 1397.7 2354.4)"/>
<rect x="1432.9" y="2348.4" width="50.0" height="11.0" rx="5.5" ry="5.5" fill="#000" fill-opacity="0.92"/>
<rect x="1495.8" y="2345.8" width="49.0" height="14.0" rx="7.0" ry="7.0" fill="#000"/>
<rect x="1557.2" y="2345.8" width="51.0" height="14.0" rx="7.0" ry="7.0" fill="#000"/>
</g>
</g>
<rect x="1291.6" y="2309.7" width="329.2" height="82.6" fill="none" stroke="#777777" stroke-width="2.3"/>
</g>
<g class="blot">
<clipPath id="cb16"><rect x="1291.6" y="2411.5" width="329.2" height="87.4"/></clipPath>
<rect x="1291.6" y="2411.5" width="329.2" height="87.4" fill="#f6f6f6"/>
<g clip-path="url(#cb16)">
<g filter="url(#bls)">
<rect x="1321.4" y="2453.5" width="41.0" height="75.4" fill="#000" fill-opacity="0.12"/>
<rect x="1378.3" y="2455.7" width="41.0" height="73.2" fill="#000" fill-opacity="0.12"/>
<rect x="1436.4" y="2456.8" width="43.0" height="72.1" fill="#000" fill-opacity="0.12"/>
<rect x="1498.8" y="2455.7" width="43.0" height="73.2" fill="#000" fill-opacity="0.12"/>
<rect x="1560.2" y="2454.6" width="45.0" height="74.3" fill="#000" fill-opacity="0.12"/>
</g>
<g filter="url(#bl2)">
<rect x="1315.4" y="2443.5" width="53.0" height="20.0" rx="10.0" fill="#000" fill-opacity="0.40"/>
<rect x="1372.3" y="2445.7" width="53.0" height="20.0" rx="10.0" fill="#000" fill-opacity="0.40"/>
<rect x="1430.4" y="2446.8" width="55.0" height="20.0" rx="10.0" fill="#000" fill-opacity="0.40"/>
<rect x="1492.8" y="2446.2" width="55.0" height="19.0" rx="9.5" fill="#000" fill-opacity="0.40"/>
<rect x="1554.2" y="2444.6" width="57.0" height="20.0" rx="10.0" fill="#000" fill-opacity="0.40"/>
</g>
<g filter="url(#bl3)">
<rect x="1315.4" y="2442.5" width="53.0" height="22.0" rx="10" fill="#000" fill-opacity="0.16"/>
<rect x="1372.3" y="2444.7" width="53.0" height="22.0" rx="10" fill="#000" fill-opacity="0.16"/>
<rect x="1430.4" y="2445.8" width="55.0" height="22.0" rx="10" fill="#000" fill-opacity="0.16"/>
<rect x="1492.8" y="2445.2" width="55.0" height="21.0" rx="10" fill="#000" fill-opacity="0.16"/>
<rect x="1554.2" y="2443.6" width="57.0" height="22.0" rx="10" fill="#000" fill-opacity="0.16"/>
</g>
<g filter="url(#bl)">
<rect x="1318.4" y="2446.5" width="47.0" height="14.0" rx="7.0" ry="7.0" fill="#000"/>
<rect x="1375.3" y="2448.7" width="47.0" height="14.0" rx="7.0" ry="7.0" fill="#000"/>
<rect x="1433.4" y="2449.8" width="49.0" height="14.0" rx="7.0" ry="7.0" fill="#000"/>
<rect x="1495.8" y="2449.2" width="49.0" height="13.0" rx="6.5" ry="6.5" fill="#000"/>
<rect x="1557.2" y="2447.6" width="51.0" height="14.0" rx="7.0" ry="7.0" fill="#000"/>
</g>
</g>
<rect x="1291.6" y="2411.5" width="329.2" height="87.4" fill="none" stroke="#777777" stroke-width="2.3"/>
</g>
</g>
</svg>
</body>
</html>
